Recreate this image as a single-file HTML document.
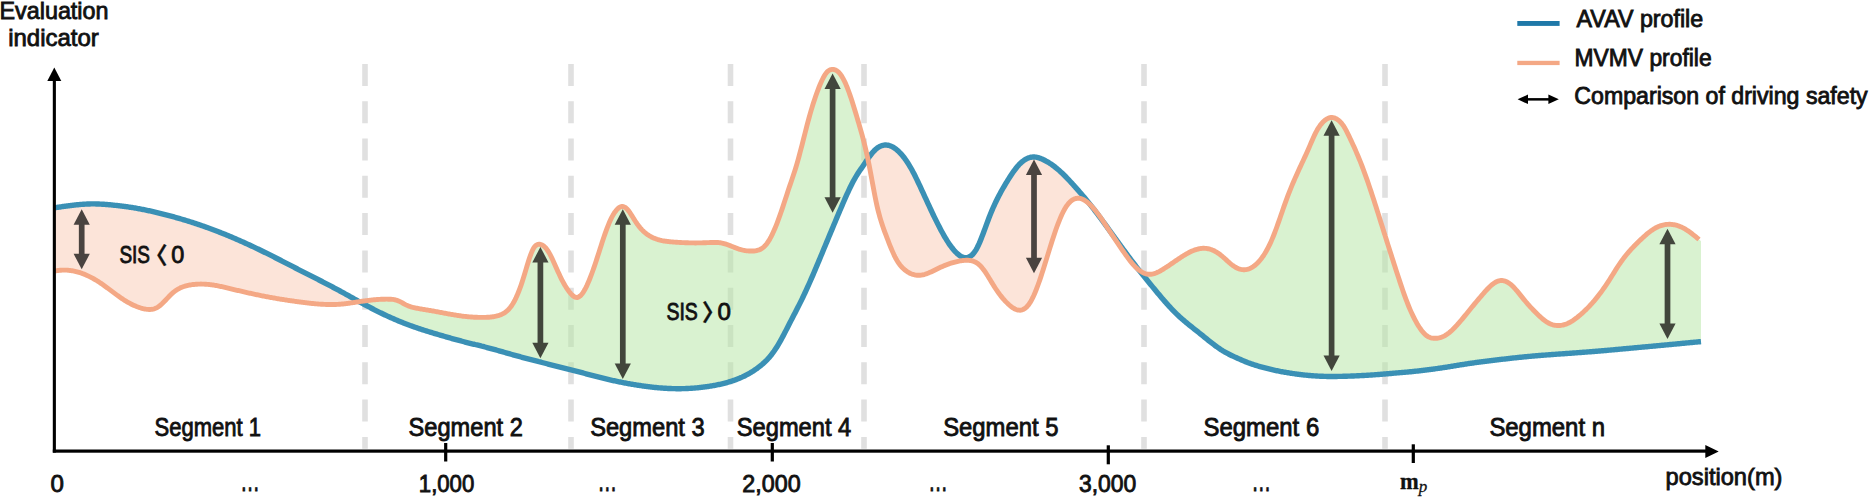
<!DOCTYPE html>
<html lang="en">
<head>
<meta charset="utf-8">
<title>AVAV vs MVMV profile</title>
<style>
html,body{margin:0;padding:0;background:#fff;}
body{width:1869px;height:498px;overflow:hidden;}
svg{display:block;}
svg text{font-family:"Liberation Sans","Noto Sans CJK KR",sans-serif;fill:#111;stroke:#111;stroke-width:0.85px;}
svg text.brk{font-family:"Noto Sans CJK KR","Noto Sans CJK JP",sans-serif;stroke-width:0.3px;}
svg text.math{font-family:"Liberation Serif","DejaVu Serif",serif;stroke-width:0.3px;}
</style>
</head>
<body>
<svg width="1869" height="498" viewBox="0 0 1869 498">
<rect width="1869" height="498" fill="#fff"/>
<g id="dashes"><line x1="365" y1="63.9" x2="365" y2="448.7" stroke="#e0e0e0" stroke-width="5.6" stroke-dasharray="22 15.3"/><line x1="571" y1="63.9" x2="571" y2="448.7" stroke="#e0e0e0" stroke-width="5.6" stroke-dasharray="22 15.3"/><line x1="730.5" y1="63.9" x2="730.5" y2="448.7" stroke="#e0e0e0" stroke-width="5.6" stroke-dasharray="22 15.3"/><line x1="864" y1="63.9" x2="864" y2="448.7" stroke="#e0e0e0" stroke-width="5.6" stroke-dasharray="22 15.3"/><line x1="1144" y1="63.9" x2="1144" y2="448.7" stroke="#e0e0e0" stroke-width="5.6" stroke-dasharray="22 15.3"/><line x1="1385" y1="63.9" x2="1385" y2="448.7" stroke="#e0e0e0" stroke-width="5.6" stroke-dasharray="22 15.3"/></g>
<g id="curves">
<path d="M55.0 271.00 L56.0 270.81 L57.0 270.64 L58.0 270.49 L59.0 270.37 L60.0 270.27 L61.0 270.19 L62.0 270.13 L63.0 270.09 L64.0 270.08 L65.0 270.09 L66.0 270.12 L67.0 270.17 L68.0 270.24 L69.0 270.34 L70.0 270.45 L71.0 270.59 L72.0 270.74 L73.0 270.92 L74.0 271.11 L75.0 271.33 L76.0 271.56 L77.0 271.82 L78.0 272.09 L79.0 272.39 L80.0 272.70 L81.0 273.03 L82.0 273.38 L83.0 273.75 L84.0 274.14 L85.0 274.54 L86.0 274.97 L87.0 275.41 L88.0 275.87 L89.0 276.35 L90.0 276.84 L91.0 277.35 L92.0 277.88 L93.0 278.43 L94.0 278.99 L95.0 279.57 L96.0 280.16 L97.0 280.77 L98.0 281.40 L99.0 282.04 L100.0 282.70 L101.0 283.37 L102.0 284.06 L103.0 284.76 L104.0 285.47 L105.0 286.20 L106.0 286.93 L107.0 287.66 L108.0 288.41 L109.0 289.15 L110.0 289.90 L111.0 290.66 L112.0 291.41 L113.0 292.16 L114.0 292.91 L115.0 293.65 L116.0 294.39 L117.0 295.12 L118.0 295.85 L119.0 296.56 L120.0 297.27 L121.0 297.96 L122.0 298.64 L123.0 299.30 L124.0 299.95 L125.0 300.58 L126.0 301.19 L127.0 301.78 L128.0 302.36 L129.0 302.92 L130.0 303.46 L131.0 303.98 L132.0 304.48 L133.0 304.96 L134.0 305.42 L135.0 305.86 L136.0 306.28 L137.0 306.67 L138.0 307.05 L139.0 307.40 L140.0 307.72 L141.0 308.03 L142.0 308.31 L143.0 308.57 L144.0 308.80 L145.0 309.01 L146.0 309.18 L147.0 309.32 L148.0 309.42 L149.0 309.48 L150.0 309.48 L151.0 309.42 L152.0 309.30 L153.0 309.12 L154.0 308.86 L155.0 308.52 L156.0 308.10 L157.0 307.59 L158.0 306.99 L159.0 306.29 L160.0 305.51 L161.0 304.66 L162.0 303.75 L163.0 302.79 L164.0 301.79 L165.0 300.76 L166.0 299.71 L167.0 298.65 L168.0 297.60 L169.0 296.55 L170.0 295.53 L171.0 294.54 L172.0 293.59 L173.0 292.70 L174.0 291.87 L175.0 291.10 L176.0 290.38 L177.0 289.73 L178.0 289.12 L179.0 288.57 L180.0 288.06 L181.0 287.60 L182.0 287.18 L183.0 286.80 L184.0 286.46 L185.0 286.14 L186.0 285.86 L187.0 285.61 L188.0 285.39 L189.0 285.18 L190.0 285.00 L191.0 284.83 L192.0 284.69 L193.0 284.55 L194.0 284.44 L195.0 284.34 L196.0 284.26 L197.0 284.19 L198.0 284.14 L199.0 284.10 L200.0 284.08 L201.0 284.07 L202.0 284.08 L203.0 284.10 L204.0 284.14 L205.0 284.18 L206.0 284.25 L207.0 284.32 L208.0 284.41 L209.0 284.51 L210.0 284.63 L211.0 284.75 L212.0 284.89 L213.0 285.03 L214.0 285.19 L215.0 285.36 L216.0 285.53 L217.0 285.71 L218.0 285.90 L219.0 286.10 L220.0 286.30 L221.0 286.51 L222.0 286.72 L223.0 286.94 L224.0 287.17 L225.0 287.40 L226.0 287.63 L227.0 287.86 L228.0 288.10 L229.0 288.34 L230.0 288.58 L231.0 288.82 L232.0 289.06 L233.0 289.30 L234.0 289.54 L235.0 289.78 L236.0 290.02 L237.0 290.26 L238.0 290.49 L239.0 290.73 L240.0 290.96 L241.0 291.20 L242.0 291.43 L243.0 291.66 L244.0 291.89 L245.0 292.12 L246.0 292.35 L247.0 292.57 L248.0 292.80 L249.0 293.02 L250.0 293.24 L251.0 293.46 L252.0 293.68 L253.0 293.90 L254.0 294.12 L255.0 294.33 L256.0 294.54 L257.0 294.75 L258.0 294.96 L259.0 295.17 L260.0 295.38 L261.0 295.58 L262.0 295.78 L263.0 295.98 L264.0 296.18 L265.0 296.37 L266.0 296.57 L267.0 296.76 L268.0 296.95 L269.0 297.13 L270.0 297.32 L271.0 297.50 L272.0 297.68 L273.0 297.86 L274.0 298.03 L275.0 298.21 L276.0 298.38 L277.0 298.55 L278.0 298.72 L279.0 298.89 L280.0 299.05 L281.0 299.21 L282.0 299.38 L283.0 299.53 L284.0 299.69 L285.0 299.85 L286.0 300.00 L287.0 300.16 L288.0 300.31 L289.0 300.46 L290.0 300.60 L291.0 300.75 L292.0 300.89 L293.0 301.04 L294.0 301.18 L295.0 301.32 L296.0 301.46 L297.0 301.60 L298.0 301.73 L299.0 301.87 L300.0 302.00 L301.0 302.13 L302.0 302.26 L303.0 302.39 L304.0 302.52 L305.0 302.64 L306.0 302.77 L307.0 302.89 L308.0 303.01 L309.0 303.12 L310.0 303.23 L311.0 303.34 L312.0 303.45 L313.0 303.55 L314.0 303.65 L315.0 303.74 L316.0 303.83 L317.0 303.91 L318.0 303.99 L319.0 304.07 L320.0 304.14 L321.0 304.21 L322.0 304.27 L323.0 304.32 L324.0 304.37 L325.0 304.41 L326.0 304.45 L327.0 304.48 L328.0 304.50 L329.0 304.52 L330.0 304.53 L331.0 304.53 L332.0 304.53 L333.0 304.51 L334.0 304.49 L335.0 304.47 L336.0 304.43 L337.0 304.39 L338.0 304.33 L339.0 304.27 L340.0 304.20 L341.0 304.12 L342.0 304.03 L343.0 303.94 L344.0 303.83 L345.0 303.72 L346.0 303.60 L347.0 303.48 L348.0 303.35 L349.0 303.22 L350.0 303.08 L351.0 302.94 L352.0 302.79 L353.0 302.64 L354.0 302.49 L355.0 302.34 L356.0 302.19 L357.0 302.03 L358.0 301.88 L359.0 301.73 L360.0 301.57 L360.0 302.09 L359.0 301.54 L358.0 300.99 L357.0 300.43 L356.0 299.88 L355.0 299.32 L354.0 298.76 L353.0 298.20 L352.0 297.65 L351.0 297.09 L350.0 296.53 L349.0 295.97 L348.0 295.41 L347.0 294.86 L346.0 294.30 L345.0 293.75 L344.0 293.19 L343.0 292.64 L342.0 292.09 L341.0 291.55 L340.0 291.00 L339.0 290.46 L338.0 289.92 L337.0 289.38 L336.0 288.84 L335.0 288.31 L334.0 287.77 L333.0 287.24 L332.0 286.71 L331.0 286.19 L330.0 285.66 L329.0 285.14 L328.0 284.62 L327.0 284.10 L326.0 283.58 L325.0 283.06 L324.0 282.54 L323.0 282.03 L322.0 281.51 L321.0 281.00 L320.0 280.49 L319.0 279.97 L318.0 279.46 L317.0 278.95 L316.0 278.44 L315.0 277.93 L314.0 277.42 L313.0 276.92 L312.0 276.41 L311.0 275.90 L310.0 275.39 L309.0 274.88 L308.0 274.38 L307.0 273.87 L306.0 273.36 L305.0 272.85 L304.0 272.34 L303.0 271.83 L302.0 271.32 L301.0 270.81 L300.0 270.30 L299.0 269.79 L298.0 269.28 L297.0 268.76 L296.0 268.25 L295.0 267.73 L294.0 267.22 L293.0 266.70 L292.0 266.19 L291.0 265.67 L290.0 265.16 L289.0 264.64 L288.0 264.13 L287.0 263.61 L286.0 263.10 L285.0 262.58 L284.0 262.07 L283.0 261.55 L282.0 261.04 L281.0 260.53 L280.0 260.02 L279.0 259.50 L278.0 258.99 L277.0 258.48 L276.0 257.97 L275.0 257.47 L274.0 256.96 L273.0 256.45 L272.0 255.95 L271.0 255.45 L270.0 254.94 L269.0 254.44 L268.0 253.95 L267.0 253.45 L266.0 252.95 L265.0 252.46 L264.0 251.97 L263.0 251.48 L262.0 250.99 L261.0 250.50 L260.0 250.02 L259.0 249.54 L258.0 249.05 L257.0 248.58 L256.0 248.10 L255.0 247.62 L254.0 247.15 L253.0 246.68 L252.0 246.21 L251.0 245.74 L250.0 245.28 L249.0 244.81 L248.0 244.35 L247.0 243.89 L246.0 243.44 L245.0 242.98 L244.0 242.53 L243.0 242.08 L242.0 241.63 L241.0 241.18 L240.0 240.74 L239.0 240.30 L238.0 239.86 L237.0 239.42 L236.0 238.99 L235.0 238.56 L234.0 238.13 L233.0 237.70 L232.0 237.28 L231.0 236.85 L230.0 236.43 L229.0 236.01 L228.0 235.60 L227.0 235.19 L226.0 234.78 L225.0 234.37 L224.0 233.96 L223.0 233.56 L222.0 233.16 L221.0 232.76 L220.0 232.37 L219.0 231.97 L218.0 231.58 L217.0 231.20 L216.0 230.81 L215.0 230.43 L214.0 230.05 L213.0 229.67 L212.0 229.30 L211.0 228.92 L210.0 228.55 L209.0 228.19 L208.0 227.82 L207.0 227.46 L206.0 227.10 L205.0 226.74 L204.0 226.39 L203.0 226.04 L202.0 225.69 L201.0 225.34 L200.0 225.00 L199.0 224.66 L198.0 224.32 L197.0 223.99 L196.0 223.65 L195.0 223.32 L194.0 223.00 L193.0 222.67 L192.0 222.35 L191.0 222.03 L190.0 221.71 L189.0 221.40 L188.0 221.08 L187.0 220.77 L186.0 220.47 L185.0 220.16 L184.0 219.86 L183.0 219.56 L182.0 219.26 L181.0 218.97 L180.0 218.67 L179.0 218.38 L178.0 218.10 L177.0 217.81 L176.0 217.53 L175.0 217.25 L174.0 216.97 L173.0 216.69 L172.0 216.42 L171.0 216.14 L170.0 215.87 L169.0 215.61 L168.0 215.34 L167.0 215.08 L166.0 214.82 L165.0 214.56 L164.0 214.30 L163.0 214.05 L162.0 213.80 L161.0 213.55 L160.0 213.30 L159.0 213.05 L158.0 212.81 L157.0 212.57 L156.0 212.33 L155.0 212.10 L154.0 211.87 L153.0 211.64 L152.0 211.41 L151.0 211.19 L150.0 210.97 L149.0 210.75 L148.0 210.53 L147.0 210.32 L146.0 210.11 L145.0 209.91 L144.0 209.71 L143.0 209.51 L142.0 209.31 L141.0 209.12 L140.0 208.93 L139.0 208.74 L138.0 208.56 L137.0 208.38 L136.0 208.21 L135.0 208.03 L134.0 207.86 L133.0 207.70 L132.0 207.54 L131.0 207.38 L130.0 207.23 L129.0 207.08 L128.0 206.93 L127.0 206.79 L126.0 206.65 L125.0 206.51 L124.0 206.38 L123.0 206.25 L122.0 206.12 L121.0 205.99 L120.0 205.87 L119.0 205.75 L118.0 205.64 L117.0 205.52 L116.0 205.41 L115.0 205.31 L114.0 205.20 L113.0 205.10 L112.0 205.00 L111.0 204.90 L110.0 204.81 L109.0 204.72 L108.0 204.63 L107.0 204.54 L106.0 204.46 L105.0 204.39 L104.0 204.31 L103.0 204.25 L102.0 204.18 L101.0 204.13 L100.0 204.08 L99.0 204.03 L98.0 203.99 L97.0 203.96 L96.0 203.93 L95.0 203.91 L94.0 203.90 L93.0 203.90 L92.0 203.90 L91.0 203.92 L90.0 203.94 L89.0 203.96 L88.0 204.00 L87.0 204.04 L86.0 204.09 L85.0 204.14 L84.0 204.21 L83.0 204.27 L82.0 204.35 L81.0 204.42 L80.0 204.51 L79.0 204.60 L78.0 204.69 L77.0 204.79 L76.0 204.89 L75.0 205.00 L74.0 205.11 L73.0 205.23 L72.0 205.35 L71.0 205.47 L70.0 205.59 L69.0 205.72 L68.0 205.85 L67.0 205.99 L66.0 206.12 L65.0 206.26 L64.0 206.40 L63.0 206.54 L62.0 206.68 L61.0 206.83 L60.0 206.97 L59.0 207.12 L58.0 207.26 L57.0 207.41 L56.0 207.55 L55.0 207.70Z" fill="#f9c9b3" fill-opacity="0.5"/>
<path d="M360.0 301.57 L361.0 301.42 L362.0 301.27 L363.0 301.13 L364.0 300.98 L365.0 300.84 L366.0 300.71 L367.0 300.58 L368.0 300.45 L369.0 300.33 L370.0 300.21 L371.0 300.10 L372.0 299.99 L373.0 299.89 L374.0 299.79 L375.0 299.71 L376.0 299.62 L377.0 299.54 L378.0 299.47 L379.0 299.41 L380.0 299.35 L381.0 299.30 L382.0 299.26 L383.0 299.23 L384.0 299.20 L385.0 299.18 L386.0 299.17 L387.0 299.17 L388.0 299.18 L389.0 299.20 L390.0 299.22 L391.0 299.26 L392.0 299.33 L393.0 299.43 L394.0 299.57 L395.0 299.77 L396.0 300.02 L397.0 300.34 L398.0 300.72 L399.0 301.16 L400.0 301.65 L401.0 302.17 L402.0 302.71 L403.0 303.26 L404.0 303.81 L405.0 304.35 L406.0 304.86 L407.0 305.33 L408.0 305.76 L409.0 306.16 L410.0 306.51 L411.0 306.84 L412.0 307.14 L413.0 307.41 L414.0 307.65 L415.0 307.88 L416.0 308.09 L417.0 308.28 L418.0 308.46 L419.0 308.63 L420.0 308.80 L421.0 308.97 L422.0 309.13 L423.0 309.30 L424.0 309.47 L425.0 309.63 L426.0 309.80 L427.0 309.97 L428.0 310.14 L429.0 310.32 L430.0 310.49 L431.0 310.67 L432.0 310.84 L433.0 311.02 L434.0 311.20 L435.0 311.38 L436.0 311.56 L437.0 311.74 L438.0 311.93 L439.0 312.11 L440.0 312.30 L441.0 312.49 L442.0 312.67 L443.0 312.86 L444.0 313.05 L445.0 313.24 L446.0 313.43 L447.0 313.61 L448.0 313.80 L449.0 313.98 L450.0 314.16 L451.0 314.34 L452.0 314.52 L453.0 314.69 L454.0 314.86 L455.0 315.03 L456.0 315.19 L457.0 315.35 L458.0 315.51 L459.0 315.66 L460.0 315.80 L461.0 315.94 L462.0 316.07 L463.0 316.20 L464.0 316.32 L465.0 316.43 L466.0 316.54 L467.0 316.64 L468.0 316.74 L469.0 316.83 L470.0 316.91 L471.0 316.99 L472.0 317.06 L473.0 317.12 L474.0 317.18 L475.0 317.23 L476.0 317.27 L477.0 317.31 L478.0 317.35 L479.0 317.37 L480.0 317.39 L481.0 317.41 L482.0 317.42 L483.0 317.42 L484.0 317.41 L485.0 317.39 L486.0 317.36 L487.0 317.32 L488.0 317.26 L489.0 317.19 L490.0 317.11 L491.0 317.00 L492.0 316.88 L493.0 316.74 L494.0 316.58 L495.0 316.40 L496.0 316.20 L497.0 315.96 L498.0 315.70 L499.0 315.39 L500.0 315.04 L501.0 314.64 L502.0 314.19 L503.0 313.67 L504.0 313.09 L505.0 312.43 L506.0 311.70 L507.0 310.87 L508.0 309.95 L509.0 308.92 L510.0 307.76 L511.0 306.48 L512.0 305.06 L513.0 303.48 L514.0 301.75 L515.0 299.87 L516.0 297.83 L517.0 295.63 L518.0 293.28 L519.0 290.78 L520.0 288.12 L521.0 285.32 L522.0 282.37 L523.0 279.28 L524.0 276.05 L525.0 272.72 L526.0 269.34 L527.0 265.98 L528.0 262.69 L529.0 259.52 L530.0 256.55 L531.0 253.81 L532.0 251.38 L533.0 249.30 L534.0 247.62 L535.0 246.33 L536.0 245.38 L537.0 244.73 L538.0 244.36 L539.0 244.23 L540.0 244.30 L541.0 244.54 L542.0 244.95 L543.0 245.52 L544.0 246.27 L545.0 247.19 L546.0 248.28 L547.0 249.55 L548.0 251.00 L549.0 252.62 L550.0 254.40 L551.0 256.31 L552.0 258.34 L553.0 260.46 L554.0 262.65 L555.0 264.88 L556.0 267.14 L557.0 269.41 L558.0 271.65 L559.0 273.86 L560.0 276.00 L561.0 278.06 L562.0 280.04 L563.0 281.93 L564.0 283.73 L565.0 285.45 L566.0 287.08 L567.0 288.62 L568.0 290.07 L569.0 291.43 L570.0 292.70 L571.0 293.87 L572.0 294.93 L573.0 295.84 L574.0 296.58 L575.0 297.12 L576.0 297.43 L577.0 297.50 L578.0 297.30 L579.0 296.83 L580.0 296.12 L581.0 295.17 L582.0 294.00 L583.0 292.62 L584.0 291.05 L585.0 289.30 L586.0 287.39 L587.0 285.32 L588.0 283.10 L589.0 280.75 L590.0 278.28 L591.0 275.70 L592.0 273.01 L593.0 270.23 L594.0 267.36 L595.0 264.43 L596.0 261.43 L597.0 258.38 L598.0 255.29 L599.0 252.18 L600.0 249.06 L601.0 245.95 L602.0 242.86 L603.0 239.82 L604.0 236.83 L605.0 233.92 L606.0 231.09 L607.0 228.37 L608.0 225.77 L609.0 223.31 L610.0 221.00 L611.0 218.86 L612.0 216.89 L613.0 215.08 L614.0 213.44 L615.0 211.96 L616.0 210.65 L617.0 209.50 L618.0 208.51 L619.0 207.70 L620.0 207.09 L621.0 206.68 L622.0 206.50 L623.0 206.56 L624.0 206.85 L625.0 207.36 L626.0 208.08 L627.0 209.00 L628.0 210.11 L629.0 211.38 L630.0 212.78 L631.0 214.29 L632.0 215.86 L633.0 217.47 L634.0 219.09 L635.0 220.70 L636.0 222.25 L637.0 223.72 L638.0 225.11 L639.0 226.41 L640.0 227.64 L641.0 228.78 L642.0 229.85 L643.0 230.86 L644.0 231.79 L645.0 232.66 L646.0 233.47 L647.0 234.22 L648.0 234.92 L649.0 235.56 L650.0 236.16 L651.0 236.71 L652.0 237.23 L653.0 237.70 L654.0 238.14 L655.0 238.55 L656.0 238.92 L657.0 239.27 L658.0 239.58 L659.0 239.87 L660.0 240.14 L661.0 240.38 L662.0 240.60 L663.0 240.79 L664.0 240.97 L665.0 241.14 L666.0 241.28 L667.0 241.41 L668.0 241.53 L669.0 241.64 L670.0 241.74 L671.0 241.83 L672.0 241.92 L673.0 242.00 L674.0 242.08 L675.0 242.15 L676.0 242.22 L677.0 242.29 L678.0 242.36 L679.0 242.42 L680.0 242.47 L681.0 242.53 L682.0 242.58 L683.0 242.63 L684.0 242.67 L685.0 242.71 L686.0 242.75 L687.0 242.79 L688.0 242.82 L689.0 242.84 L690.0 242.87 L691.0 242.89 L692.0 242.90 L693.0 242.91 L694.0 242.92 L695.0 242.93 L696.0 242.93 L697.0 242.92 L698.0 242.92 L699.0 242.91 L700.0 242.89 L701.0 242.87 L702.0 242.85 L703.0 242.82 L704.0 242.79 L705.0 242.75 L706.0 242.71 L707.0 242.67 L708.0 242.62 L709.0 242.58 L710.0 242.53 L711.0 242.49 L712.0 242.46 L713.0 242.44 L714.0 242.43 L715.0 242.43 L716.0 242.45 L717.0 242.50 L718.0 242.56 L719.0 242.65 L720.0 242.76 L721.0 242.91 L722.0 243.09 L723.0 243.30 L724.0 243.55 L725.0 243.83 L726.0 244.14 L727.0 244.48 L728.0 244.83 L729.0 245.21 L730.0 245.60 L731.0 246.00 L732.0 246.40 L733.0 246.81 L734.0 247.21 L735.0 247.61 L736.0 248.00 L737.0 248.38 L738.0 248.74 L739.0 249.08 L740.0 249.39 L741.0 249.68 L742.0 249.94 L743.0 250.17 L744.0 250.37 L745.0 250.55 L746.0 250.70 L747.0 250.82 L748.0 250.91 L749.0 250.98 L750.0 251.03 L751.0 251.04 L752.0 251.04 L753.0 251.00 L754.0 250.94 L755.0 250.84 L756.0 250.70 L757.0 250.50 L758.0 250.24 L759.0 249.90 L760.0 249.48 L761.0 248.97 L762.0 248.35 L763.0 247.62 L764.0 246.77 L765.0 245.79 L766.0 244.67 L767.0 243.39 L768.0 241.97 L769.0 240.40 L770.0 238.69 L771.0 236.85 L772.0 234.88 L773.0 232.78 L774.0 230.57 L775.0 228.25 L776.0 225.82 L777.0 223.29 L778.0 220.67 L779.0 217.95 L780.0 215.15 L781.0 212.28 L782.0 209.34 L783.0 206.35 L784.0 203.32 L785.0 200.27 L786.0 197.21 L787.0 194.15 L788.0 191.10 L789.0 188.09 L790.0 185.11 L791.0 182.18 L792.0 179.25 L793.0 176.30 L794.0 173.30 L795.0 170.21 L796.0 166.99 L797.0 163.63 L798.0 160.12 L799.0 156.48 L800.0 152.74 L801.0 148.92 L802.0 145.04 L803.0 141.12 L804.0 137.18 L805.0 133.25 L806.0 129.34 L807.0 125.48 L808.0 121.69 L809.0 118.00 L810.0 114.42 L811.0 110.94 L812.0 107.59 L813.0 104.34 L814.0 101.21 L815.0 98.19 L816.0 95.29 L817.0 92.49 L818.0 89.81 L819.0 87.24 L820.0 84.79 L821.0 82.45 L822.0 80.25 L823.0 78.22 L824.0 76.37 L825.0 74.71 L826.0 73.28 L827.0 72.08 L828.0 71.13 L829.0 70.41 L830.0 69.90 L831.0 69.58 L832.0 69.42 L833.0 69.41 L834.0 69.54 L835.0 69.82 L836.0 70.25 L837.0 70.86 L838.0 71.64 L839.0 72.61 L840.0 73.77 L841.0 75.13 L842.0 76.66 L843.0 78.38 L844.0 80.28 L845.0 82.34 L846.0 84.58 L847.0 86.98 L848.0 89.54 L849.0 92.24 L850.0 95.06 L851.0 98.01 L852.0 101.05 L853.0 104.19 L854.0 107.40 L855.0 110.66 L856.0 113.98 L857.0 117.33 L858.0 120.70 L859.0 124.10 L860.0 127.56 L861.0 131.09 L862.0 134.71 L863.0 138.46 L864.0 142.33 L865.0 146.37 L866.0 150.58 L867.0 154.99 L868.0 159.62 L868.0 158.66 L867.0 160.11 L866.0 161.58 L865.0 163.06 L864.0 164.54 L863.0 166.00 L862.0 167.45 L861.0 168.88 L860.0 170.33 L859.0 171.80 L858.0 173.30 L857.0 174.87 L856.0 176.50 L855.0 178.21 L854.0 179.99 L853.0 181.85 L852.0 183.77 L851.0 185.75 L850.0 187.78 L849.0 189.87 L848.0 192.01 L847.0 194.19 L846.0 196.41 L845.0 198.67 L844.0 200.95 L843.0 203.26 L842.0 205.59 L841.0 207.93 L840.0 210.29 L839.0 212.66 L838.0 215.03 L837.0 217.40 L836.0 219.78 L835.0 222.17 L834.0 224.56 L833.0 226.95 L832.0 229.34 L831.0 231.74 L830.0 234.14 L829.0 236.55 L828.0 238.95 L827.0 241.36 L826.0 243.77 L825.0 246.18 L824.0 248.59 L823.0 251.00 L822.0 253.41 L821.0 255.82 L820.0 258.22 L819.0 260.62 L818.0 263.01 L817.0 265.40 L816.0 267.77 L815.0 270.13 L814.0 272.48 L813.0 274.82 L812.0 277.14 L811.0 279.44 L810.0 281.72 L809.0 283.98 L808.0 286.21 L807.0 288.43 L806.0 290.61 L805.0 292.77 L804.0 294.90 L803.0 297.00 L802.0 299.07 L801.0 301.10 L800.0 303.12 L799.0 305.11 L798.0 307.08 L797.0 309.03 L796.0 310.98 L795.0 312.91 L794.0 314.84 L793.0 316.77 L792.0 318.70 L791.0 320.63 L790.0 322.58 L789.0 324.53 L788.0 326.49 L787.0 328.44 L786.0 330.38 L785.0 332.32 L784.0 334.23 L783.0 336.13 L782.0 337.99 L781.0 339.82 L780.0 341.61 L779.0 343.36 L778.0 345.06 L777.0 346.70 L776.0 348.28 L775.0 349.80 L774.0 351.26 L773.0 352.65 L772.0 353.98 L771.0 355.25 L770.0 356.46 L769.0 357.63 L768.0 358.74 L767.0 359.81 L766.0 360.83 L765.0 361.81 L764.0 362.75 L763.0 363.65 L762.0 364.52 L761.0 365.35 L760.0 366.16 L759.0 366.94 L758.0 367.70 L757.0 368.44 L756.0 369.15 L755.0 369.84 L754.0 370.51 L753.0 371.17 L752.0 371.80 L751.0 372.41 L750.0 373.00 L749.0 373.58 L748.0 374.14 L747.0 374.68 L746.0 375.20 L745.0 375.71 L744.0 376.20 L743.0 376.67 L742.0 377.14 L741.0 377.58 L740.0 378.01 L739.0 378.43 L738.0 378.83 L737.0 379.23 L736.0 379.61 L735.0 379.97 L734.0 380.33 L733.0 380.68 L732.0 381.01 L731.0 381.33 L730.0 381.65 L729.0 381.95 L728.0 382.25 L727.0 382.53 L726.0 382.81 L725.0 383.08 L724.0 383.34 L723.0 383.59 L722.0 383.83 L721.0 384.06 L720.0 384.29 L719.0 384.51 L718.0 384.72 L717.0 384.92 L716.0 385.12 L715.0 385.31 L714.0 385.49 L713.0 385.67 L712.0 385.85 L711.0 386.01 L710.0 386.17 L709.0 386.33 L708.0 386.48 L707.0 386.63 L706.0 386.77 L705.0 386.91 L704.0 387.04 L703.0 387.17 L702.0 387.29 L701.0 387.41 L700.0 387.52 L699.0 387.63 L698.0 387.73 L697.0 387.82 L696.0 387.92 L695.0 388.00 L694.0 388.08 L693.0 388.16 L692.0 388.23 L691.0 388.30 L690.0 388.36 L689.0 388.42 L688.0 388.47 L687.0 388.51 L686.0 388.55 L685.0 388.59 L684.0 388.62 L683.0 388.64 L682.0 388.66 L681.0 388.68 L680.0 388.69 L679.0 388.69 L678.0 388.69 L677.0 388.69 L676.0 388.68 L675.0 388.66 L674.0 388.64 L673.0 388.62 L672.0 388.59 L671.0 388.55 L670.0 388.52 L669.0 388.47 L668.0 388.43 L667.0 388.38 L666.0 388.32 L665.0 388.26 L664.0 388.20 L663.0 388.13 L662.0 388.06 L661.0 387.98 L660.0 387.90 L659.0 387.82 L658.0 387.73 L657.0 387.64 L656.0 387.54 L655.0 387.44 L654.0 387.34 L653.0 387.23 L652.0 387.12 L651.0 387.00 L650.0 386.89 L649.0 386.77 L648.0 386.64 L647.0 386.51 L646.0 386.38 L645.0 386.25 L644.0 386.11 L643.0 385.97 L642.0 385.83 L641.0 385.68 L640.0 385.54 L639.0 385.38 L638.0 385.23 L637.0 385.07 L636.0 384.91 L635.0 384.75 L634.0 384.59 L633.0 384.42 L632.0 384.25 L631.0 384.08 L630.0 383.90 L629.0 383.72 L628.0 383.54 L627.0 383.36 L626.0 383.18 L625.0 382.99 L624.0 382.80 L623.0 382.60 L622.0 382.41 L621.0 382.21 L620.0 382.01 L619.0 381.80 L618.0 381.60 L617.0 381.39 L616.0 381.17 L615.0 380.96 L614.0 380.74 L613.0 380.52 L612.0 380.30 L611.0 380.07 L610.0 379.84 L609.0 379.61 L608.0 379.37 L607.0 379.13 L606.0 378.89 L605.0 378.65 L604.0 378.41 L603.0 378.16 L602.0 377.91 L601.0 377.66 L600.0 377.41 L599.0 377.16 L598.0 376.90 L597.0 376.65 L596.0 376.39 L595.0 376.13 L594.0 375.87 L593.0 375.61 L592.0 375.35 L591.0 375.09 L590.0 374.83 L589.0 374.56 L588.0 374.30 L587.0 374.04 L586.0 373.77 L585.0 373.51 L584.0 373.25 L583.0 372.98 L582.0 372.72 L581.0 372.46 L580.0 372.20 L579.0 371.93 L578.0 371.67 L577.0 371.41 L576.0 371.15 L575.0 370.89 L574.0 370.62 L573.0 370.36 L572.0 370.10 L571.0 369.84 L570.0 369.58 L569.0 369.32 L568.0 369.07 L567.0 368.81 L566.0 368.55 L565.0 368.29 L564.0 368.04 L563.0 367.78 L562.0 367.53 L561.0 367.27 L560.0 367.02 L559.0 366.77 L558.0 366.51 L557.0 366.26 L556.0 366.01 L555.0 365.76 L554.0 365.51 L553.0 365.26 L552.0 365.01 L551.0 364.76 L550.0 364.51 L549.0 364.26 L548.0 364.01 L547.0 363.76 L546.0 363.50 L545.0 363.25 L544.0 363.00 L543.0 362.75 L542.0 362.50 L541.0 362.24 L540.0 361.99 L539.0 361.74 L538.0 361.48 L537.0 361.23 L536.0 360.97 L535.0 360.71 L534.0 360.45 L533.0 360.19 L532.0 359.93 L531.0 359.67 L530.0 359.41 L529.0 359.15 L528.0 358.88 L527.0 358.62 L526.0 358.35 L525.0 358.09 L524.0 357.82 L523.0 357.55 L522.0 357.28 L521.0 357.01 L520.0 356.73 L519.0 356.46 L518.0 356.19 L517.0 355.91 L516.0 355.63 L515.0 355.36 L514.0 355.08 L513.0 354.80 L512.0 354.52 L511.0 354.23 L510.0 353.95 L509.0 353.67 L508.0 353.38 L507.0 353.09 L506.0 352.81 L505.0 352.52 L504.0 352.24 L503.0 351.95 L502.0 351.66 L501.0 351.38 L500.0 351.09 L499.0 350.81 L498.0 350.53 L497.0 350.24 L496.0 349.96 L495.0 349.68 L494.0 349.41 L493.0 349.13 L492.0 348.86 L491.0 348.58 L490.0 348.31 L489.0 348.04 L488.0 347.78 L487.0 347.52 L486.0 347.26 L485.0 347.00 L484.0 346.74 L483.0 346.49 L482.0 346.24 L481.0 345.98 L480.0 345.73 L479.0 345.49 L478.0 345.24 L477.0 344.99 L476.0 344.75 L475.0 344.50 L474.0 344.25 L473.0 344.01 L472.0 343.76 L471.0 343.52 L470.0 343.27 L469.0 343.02 L468.0 342.77 L467.0 342.52 L466.0 342.27 L465.0 342.01 L464.0 341.76 L463.0 341.50 L462.0 341.24 L461.0 340.98 L460.0 340.71 L459.0 340.45 L458.0 340.18 L457.0 339.91 L456.0 339.63 L455.0 339.36 L454.0 339.08 L453.0 338.81 L452.0 338.53 L451.0 338.25 L450.0 337.96 L449.0 337.68 L448.0 337.39 L447.0 337.11 L446.0 336.82 L445.0 336.53 L444.0 336.24 L443.0 335.95 L442.0 335.66 L441.0 335.37 L440.0 335.07 L439.0 334.78 L438.0 334.48 L437.0 334.19 L436.0 333.89 L435.0 333.59 L434.0 333.29 L433.0 332.99 L432.0 332.69 L431.0 332.39 L430.0 332.08 L429.0 331.78 L428.0 331.47 L427.0 331.16 L426.0 330.84 L425.0 330.53 L424.0 330.21 L423.0 329.89 L422.0 329.57 L421.0 329.24 L420.0 328.91 L419.0 328.58 L418.0 328.25 L417.0 327.91 L416.0 327.57 L415.0 327.22 L414.0 326.87 L413.0 326.52 L412.0 326.16 L411.0 325.80 L410.0 325.43 L409.0 325.06 L408.0 324.69 L407.0 324.31 L406.0 323.93 L405.0 323.54 L404.0 323.15 L403.0 322.76 L402.0 322.36 L401.0 321.96 L400.0 321.55 L399.0 321.14 L398.0 320.73 L397.0 320.31 L396.0 319.89 L395.0 319.46 L394.0 319.03 L393.0 318.59 L392.0 318.15 L391.0 317.71 L390.0 317.26 L389.0 316.81 L388.0 316.35 L387.0 315.89 L386.0 315.43 L385.0 314.96 L384.0 314.48 L383.0 314.01 L382.0 313.53 L381.0 313.04 L380.0 312.55 L379.0 312.06 L378.0 311.57 L377.0 311.07 L376.0 310.56 L375.0 310.06 L374.0 309.55 L373.0 309.03 L372.0 308.52 L371.0 308.00 L370.0 307.47 L369.0 306.95 L368.0 306.42 L367.0 305.89 L366.0 305.35 L365.0 304.82 L364.0 304.28 L363.0 303.73 L362.0 303.19 L361.0 302.64 L360.0 302.09Z" fill="#b3e5a1" fill-opacity="0.5"/>
<path d="M868.0 159.62 L869.0 164.49 L870.0 169.61 L871.0 174.93 L872.0 180.36 L873.0 185.81 L874.0 191.17 L875.0 196.36 L876.0 201.29 L877.0 205.86 L878.0 210.07 L879.0 213.96 L880.0 217.55 L881.0 220.90 L882.0 224.04 L883.0 227.00 L884.0 229.82 L885.0 232.55 L886.0 235.21 L887.0 237.84 L888.0 240.45 L889.0 243.02 L890.0 245.54 L891.0 247.99 L892.0 250.36 L893.0 252.64 L894.0 254.81 L895.0 256.85 L896.0 258.76 L897.0 260.51 L898.0 262.12 L899.0 263.59 L900.0 264.93 L901.0 266.15 L902.0 267.26 L903.0 268.27 L904.0 269.18 L905.0 270.02 L906.0 270.78 L907.0 271.48 L908.0 272.13 L909.0 272.71 L910.0 273.23 L911.0 273.69 L912.0 274.10 L913.0 274.45 L914.0 274.73 L915.0 274.96 L916.0 275.13 L917.0 275.25 L918.0 275.30 L919.0 275.30 L920.0 275.24 L921.0 275.13 L922.0 274.97 L923.0 274.77 L924.0 274.52 L925.0 274.24 L926.0 273.92 L927.0 273.57 L928.0 273.19 L929.0 272.79 L930.0 272.36 L931.0 271.91 L932.0 271.45 L933.0 270.97 L934.0 270.49 L935.0 270.00 L936.0 269.50 L937.0 269.01 L938.0 268.52 L939.0 268.03 L940.0 267.56 L941.0 267.10 L942.0 266.65 L943.0 266.21 L944.0 265.78 L945.0 265.37 L946.0 264.97 L947.0 264.59 L948.0 264.22 L949.0 263.86 L950.0 263.52 L951.0 263.19 L952.0 262.88 L953.0 262.58 L954.0 262.29 L955.0 262.03 L956.0 261.77 L957.0 261.54 L958.0 261.31 L959.0 261.11 L960.0 260.93 L961.0 260.77 L962.0 260.63 L963.0 260.51 L964.0 260.41 L965.0 260.35 L966.0 260.31 L967.0 260.29 L968.0 260.32 L969.0 260.38 L970.0 260.48 L971.0 260.64 L972.0 260.86 L973.0 261.15 L974.0 261.50 L975.0 261.94 L976.0 262.45 L977.0 263.06 L978.0 263.77 L979.0 264.58 L980.0 265.50 L981.0 266.53 L982.0 267.68 L983.0 268.93 L984.0 270.28 L985.0 271.70 L986.0 273.19 L987.0 274.73 L988.0 276.32 L989.0 277.94 L990.0 279.58 L991.0 281.23 L992.0 282.88 L993.0 284.52 L994.0 286.13 L995.0 287.70 L996.0 289.23 L997.0 290.70 L998.0 292.13 L999.0 293.51 L1000.0 294.85 L1001.0 296.13 L1002.0 297.37 L1003.0 298.57 L1004.0 299.71 L1005.0 300.81 L1006.0 301.87 L1007.0 302.87 L1008.0 303.84 L1009.0 304.75 L1010.0 305.62 L1011.0 306.43 L1012.0 307.19 L1013.0 307.87 L1014.0 308.48 L1015.0 309.01 L1016.0 309.45 L1017.0 309.79 L1018.0 310.04 L1019.0 310.17 L1020.0 310.20 L1021.0 310.10 L1022.0 309.87 L1023.0 309.52 L1024.0 309.02 L1025.0 308.37 L1026.0 307.57 L1027.0 306.61 L1028.0 305.48 L1029.0 304.18 L1030.0 302.70 L1031.0 301.03 L1032.0 299.19 L1033.0 297.18 L1034.0 295.02 L1035.0 292.71 L1036.0 290.26 L1037.0 287.69 L1038.0 285.00 L1039.0 282.21 L1040.0 279.33 L1041.0 276.36 L1042.0 273.32 L1043.0 270.21 L1044.0 267.05 L1045.0 263.85 L1046.0 260.62 L1047.0 257.38 L1048.0 254.13 L1049.0 250.88 L1050.0 247.65 L1051.0 244.46 L1052.0 241.30 L1053.0 238.19 L1054.0 235.15 L1055.0 232.18 L1056.0 229.30 L1057.0 226.52 L1058.0 223.84 L1059.0 221.27 L1060.0 218.82 L1061.0 216.49 L1062.0 214.29 L1063.0 212.23 L1064.0 210.31 L1065.0 208.53 L1066.0 206.91 L1067.0 205.44 L1068.0 204.12 L1069.0 202.95 L1070.0 201.92 L1071.0 201.03 L1072.0 200.27 L1073.0 199.63 L1074.0 199.12 L1075.0 198.74 L1076.0 198.46 L1077.0 198.30 L1078.0 198.24 L1079.0 198.29 L1080.0 198.44 L1081.0 198.68 L1082.0 199.02 L1083.0 199.44 L1084.0 199.95 L1085.0 200.54 L1086.0 201.21 L1087.0 201.95 L1088.0 202.76 L1089.0 203.65 L1090.0 204.59 L1091.0 205.59 L1091.0 205.63 L1090.0 204.37 L1089.0 203.13 L1088.0 201.90 L1087.0 200.68 L1086.0 199.47 L1085.0 198.28 L1084.0 197.09 L1083.0 195.91 L1082.0 194.74 L1081.0 193.58 L1080.0 192.43 L1079.0 191.28 L1078.0 190.14 L1077.0 189.00 L1076.0 187.87 L1075.0 186.74 L1074.0 185.62 L1073.0 184.50 L1072.0 183.40 L1071.0 182.30 L1070.0 181.22 L1069.0 180.15 L1068.0 179.09 L1067.0 178.04 L1066.0 177.01 L1065.0 176.00 L1064.0 175.00 L1063.0 174.03 L1062.0 173.07 L1061.0 172.13 L1060.0 171.22 L1059.0 170.33 L1058.0 169.46 L1057.0 168.61 L1056.0 167.79 L1055.0 167.00 L1054.0 166.23 L1053.0 165.50 L1052.0 164.78 L1051.0 164.10 L1050.0 163.44 L1049.0 162.80 L1048.0 162.19 L1047.0 161.60 L1046.0 161.04 L1045.0 160.50 L1044.0 159.98 L1043.0 159.50 L1042.0 159.04 L1041.0 158.62 L1040.0 158.23 L1039.0 157.89 L1038.0 157.60 L1037.0 157.37 L1036.0 157.18 L1035.0 157.06 L1034.0 157.00 L1033.0 157.02 L1032.0 157.10 L1031.0 157.25 L1030.0 157.47 L1029.0 157.77 L1028.0 158.13 L1027.0 158.57 L1026.0 159.08 L1025.0 159.67 L1024.0 160.33 L1023.0 161.06 L1022.0 161.86 L1021.0 162.74 L1020.0 163.70 L1019.0 164.73 L1018.0 165.83 L1017.0 167.00 L1016.0 168.24 L1015.0 169.53 L1014.0 170.88 L1013.0 172.28 L1012.0 173.73 L1011.0 175.23 L1010.0 176.76 L1009.0 178.33 L1008.0 179.92 L1007.0 181.55 L1006.0 183.20 L1005.0 184.86 L1004.0 186.56 L1003.0 188.28 L1002.0 190.04 L1001.0 191.83 L1000.0 193.67 L999.0 195.55 L998.0 197.48 L997.0 199.46 L996.0 201.51 L995.0 203.62 L994.0 205.79 L993.0 208.03 L992.0 210.35 L991.0 212.75 L990.0 215.24 L989.0 217.81 L988.0 220.45 L987.0 223.15 L986.0 225.87 L985.0 228.60 L984.0 231.32 L983.0 233.99 L982.0 236.61 L981.0 239.15 L980.0 241.58 L979.0 243.88 L978.0 246.04 L977.0 248.02 L976.0 249.82 L975.0 251.40 L974.0 252.79 L973.0 253.99 L972.0 255.01 L971.0 255.85 L970.0 256.52 L969.0 257.04 L968.0 257.40 L967.0 257.62 L966.0 257.71 L965.0 257.67 L964.0 257.51 L963.0 257.23 L962.0 256.84 L961.0 256.34 L960.0 255.73 L959.0 255.03 L958.0 254.24 L957.0 253.36 L956.0 252.40 L955.0 251.36 L954.0 250.25 L953.0 249.06 L952.0 247.81 L951.0 246.49 L950.0 245.10 L949.0 243.65 L948.0 242.14 L947.0 240.58 L946.0 238.96 L945.0 237.29 L944.0 235.57 L943.0 233.81 L942.0 232.00 L941.0 230.16 L940.0 228.27 L939.0 226.35 L938.0 224.40 L937.0 222.42 L936.0 220.41 L935.0 218.37 L934.0 216.31 L933.0 214.23 L932.0 212.12 L931.0 210.00 L930.0 207.87 L929.0 205.72 L928.0 203.57 L927.0 201.40 L926.0 199.23 L925.0 197.05 L924.0 194.88 L923.0 192.70 L922.0 190.53 L921.0 188.36 L920.0 186.21 L919.0 184.08 L918.0 181.96 L917.0 179.88 L916.0 177.83 L915.0 175.82 L914.0 173.85 L913.0 171.93 L912.0 170.06 L911.0 168.26 L910.0 166.51 L909.0 164.83 L908.0 163.23 L907.0 161.69 L906.0 160.22 L905.0 158.82 L904.0 157.48 L903.0 156.22 L902.0 155.02 L901.0 153.88 L900.0 152.81 L899.0 151.81 L898.0 150.87 L897.0 150.00 L896.0 149.19 L895.0 148.45 L894.0 147.77 L893.0 147.16 L892.0 146.62 L891.0 146.16 L890.0 145.77 L889.0 145.46 L888.0 145.23 L887.0 145.07 L886.0 145.00 L885.0 145.01 L884.0 145.11 L883.0 145.29 L882.0 145.57 L881.0 145.93 L880.0 146.37 L879.0 146.91 L878.0 147.54 L877.0 148.27 L876.0 149.08 L875.0 149.99 L874.0 151.00 L873.0 152.10 L872.0 153.29 L871.0 154.54 L870.0 155.87 L869.0 157.24 L868.0 158.66Z" fill="#f9c9b3" fill-opacity="0.5"/>
<path d="M1091.0 205.59 L1092.0 206.65 L1093.0 207.77 L1094.0 208.93 L1095.0 210.14 L1096.0 211.40 L1097.0 212.69 L1098.0 214.02 L1099.0 215.38 L1100.0 216.77 L1101.0 218.19 L1102.0 219.63 L1103.0 221.09 L1104.0 222.56 L1105.0 224.05 L1106.0 225.55 L1107.0 227.05 L1107.0 226.96 L1106.0 225.59 L1105.0 224.21 L1104.0 222.85 L1103.0 221.48 L1102.0 220.12 L1101.0 218.76 L1100.0 217.41 L1099.0 216.07 L1098.0 214.73 L1097.0 213.40 L1096.0 212.08 L1095.0 210.77 L1094.0 209.47 L1093.0 208.18 L1092.0 206.90 L1091.0 205.63Z" fill="#b3e5a1" fill-opacity="0.5"/>
<path d="M1107.0 227.05 L1108.0 228.56 L1109.0 230.07 L1110.0 231.58 L1111.0 233.09 L1112.0 234.61 L1113.0 236.12 L1114.0 237.63 L1115.0 239.14 L1116.0 240.64 L1117.0 242.14 L1118.0 243.64 L1119.0 245.13 L1120.0 246.61 L1121.0 248.08 L1122.0 249.55 L1123.0 251.00 L1124.0 252.44 L1125.0 253.87 L1126.0 255.28 L1127.0 256.66 L1128.0 258.02 L1129.0 259.35 L1130.0 260.65 L1131.0 261.90 L1132.0 263.12 L1133.0 264.28 L1134.0 265.40 L1135.0 266.47 L1136.0 267.47 L1137.0 268.42 L1138.0 269.30 L1139.0 270.11 L1139.0 270.12 L1138.0 268.84 L1137.0 267.57 L1136.0 266.28 L1135.0 264.99 L1134.0 263.69 L1133.0 262.38 L1132.0 261.07 L1131.0 259.75 L1130.0 258.42 L1129.0 257.09 L1128.0 255.76 L1127.0 254.41 L1126.0 253.07 L1125.0 251.72 L1124.0 250.36 L1123.0 249.00 L1122.0 247.64 L1121.0 246.27 L1120.0 244.90 L1119.0 243.52 L1118.0 242.15 L1117.0 240.77 L1116.0 239.39 L1115.0 238.01 L1114.0 236.63 L1113.0 235.25 L1112.0 233.86 L1111.0 232.48 L1110.0 231.10 L1109.0 229.72 L1108.0 228.34 L1107.0 226.96Z" fill="#f9c9b3" fill-opacity="0.5"/>
<path d="M1139.0 270.11 L1140.0 270.85 L1141.0 271.52 L1142.0 272.12 L1143.0 272.65 L1144.0 273.11 L1145.0 273.49 L1146.0 273.80 L1147.0 274.04 L1148.0 274.20 L1149.0 274.28 L1150.0 274.30 L1151.0 274.23 L1152.0 274.10 L1153.0 273.90 L1154.0 273.63 L1155.0 273.32 L1156.0 272.95 L1157.0 272.53 L1158.0 272.07 L1159.0 271.57 L1160.0 271.04 L1161.0 270.49 L1162.0 269.90 L1163.0 269.30 L1164.0 268.68 L1165.0 268.05 L1166.0 267.41 L1167.0 266.76 L1168.0 266.09 L1169.0 265.42 L1170.0 264.75 L1171.0 264.06 L1172.0 263.38 L1173.0 262.69 L1174.0 262.00 L1175.0 261.31 L1176.0 260.63 L1177.0 259.95 L1178.0 259.27 L1179.0 258.60 L1180.0 257.93 L1181.0 257.28 L1182.0 256.63 L1183.0 256.00 L1184.0 255.38 L1185.0 254.77 L1186.0 254.19 L1187.0 253.62 L1188.0 253.06 L1189.0 252.53 L1190.0 252.03 L1191.0 251.55 L1192.0 251.09 L1193.0 250.66 L1194.0 250.27 L1195.0 249.90 L1196.0 249.57 L1197.0 249.27 L1198.0 249.01 L1199.0 248.78 L1200.0 248.60 L1201.0 248.46 L1202.0 248.36 L1203.0 248.30 L1204.0 248.29 L1205.0 248.33 L1206.0 248.41 L1207.0 248.54 L1208.0 248.72 L1209.0 248.94 L1210.0 249.22 L1211.0 249.53 L1212.0 249.90 L1213.0 250.31 L1214.0 250.77 L1215.0 251.28 L1216.0 251.83 L1217.0 252.43 L1218.0 253.09 L1219.0 253.78 L1220.0 254.53 L1221.0 255.32 L1222.0 256.15 L1223.0 257.01 L1224.0 257.89 L1225.0 258.79 L1226.0 259.69 L1227.0 260.60 L1228.0 261.50 L1229.0 262.38 L1230.0 263.24 L1231.0 264.07 L1232.0 264.86 L1233.0 265.61 L1234.0 266.30 L1235.0 266.93 L1236.0 267.50 L1237.0 268.01 L1238.0 268.46 L1239.0 268.84 L1240.0 269.15 L1241.0 269.39 L1242.0 269.57 L1243.0 269.68 L1244.0 269.71 L1245.0 269.68 L1246.0 269.57 L1247.0 269.39 L1248.0 269.13 L1249.0 268.81 L1250.0 268.41 L1251.0 267.93 L1252.0 267.38 L1253.0 266.76 L1254.0 266.06 L1255.0 265.28 L1256.0 264.43 L1257.0 263.50 L1258.0 262.50 L1259.0 261.42 L1260.0 260.26 L1261.0 259.02 L1262.0 257.70 L1263.0 256.29 L1264.0 254.79 L1265.0 253.21 L1266.0 251.53 L1267.0 249.75 L1268.0 247.88 L1269.0 245.91 L1270.0 243.84 L1271.0 241.67 L1272.0 239.39 L1273.0 237.00 L1274.0 234.50 L1275.0 231.91 L1276.0 229.24 L1277.0 226.49 L1278.0 223.69 L1279.0 220.84 L1280.0 217.97 L1281.0 215.07 L1282.0 212.18 L1283.0 209.29 L1284.0 206.43 L1285.0 203.60 L1286.0 200.82 L1287.0 198.11 L1288.0 195.46 L1289.0 192.87 L1290.0 190.34 L1291.0 187.86 L1292.0 185.43 L1293.0 183.05 L1294.0 180.71 L1295.0 178.40 L1296.0 176.14 L1297.0 173.90 L1298.0 171.70 L1299.0 169.51 L1300.0 167.35 L1301.0 165.20 L1302.0 163.06 L1303.0 160.93 L1304.0 158.80 L1305.0 156.65 L1306.0 154.47 L1307.0 152.27 L1308.0 150.03 L1309.0 147.74 L1310.0 145.40 L1311.0 143.05 L1312.0 140.71 L1313.0 138.42 L1314.0 136.20 L1315.0 134.10 L1316.0 132.13 L1317.0 130.30 L1318.0 128.61 L1319.0 127.04 L1320.0 125.61 L1321.0 124.30 L1322.0 123.11 L1323.0 122.04 L1324.0 121.08 L1325.0 120.23 L1326.0 119.49 L1327.0 118.86 L1328.0 118.35 L1329.0 117.96 L1330.0 117.68 L1331.0 117.53 L1332.0 117.50 L1333.0 117.60 L1334.0 117.83 L1335.0 118.17 L1336.0 118.63 L1337.0 119.21 L1338.0 119.91 L1339.0 120.72 L1340.0 121.65 L1341.0 122.70 L1342.0 123.88 L1343.0 125.21 L1344.0 126.69 L1345.0 128.35 L1346.0 130.17 L1347.0 132.10 L1348.0 134.10 L1349.0 136.14 L1350.0 138.22 L1351.0 140.33 L1352.0 142.47 L1353.0 144.65 L1354.0 146.86 L1355.0 149.10 L1356.0 151.38 L1357.0 153.70 L1358.0 156.06 L1359.0 158.47 L1360.0 160.93 L1361.0 163.43 L1362.0 166.00 L1363.0 168.62 L1364.0 171.30 L1365.0 174.04 L1366.0 176.82 L1367.0 179.65 L1368.0 182.53 L1369.0 185.45 L1370.0 188.41 L1371.0 191.40 L1372.0 194.43 L1373.0 197.49 L1374.0 200.57 L1375.0 203.68 L1376.0 206.81 L1377.0 209.95 L1378.0 213.12 L1379.0 216.29 L1380.0 219.47 L1381.0 222.65 L1382.0 225.84 L1383.0 229.03 L1384.0 232.21 L1385.0 235.38 L1386.0 238.55 L1387.0 241.72 L1388.0 244.88 L1389.0 248.03 L1390.0 251.17 L1391.0 254.31 L1392.0 257.44 L1393.0 260.56 L1394.0 263.68 L1395.0 266.78 L1396.0 269.88 L1397.0 272.97 L1398.0 276.05 L1399.0 279.10 L1400.0 282.13 L1401.0 285.12 L1402.0 288.07 L1403.0 290.98 L1404.0 293.82 L1405.0 296.61 L1406.0 299.32 L1407.0 301.96 L1408.0 304.51 L1409.0 306.97 L1410.0 309.34 L1411.0 311.62 L1412.0 313.81 L1413.0 315.90 L1414.0 317.91 L1415.0 319.84 L1416.0 321.68 L1417.0 323.45 L1418.0 325.13 L1419.0 326.74 L1420.0 328.25 L1421.0 329.68 L1422.0 331.00 L1423.0 332.22 L1424.0 333.33 L1425.0 334.33 L1426.0 335.20 L1427.0 335.95 L1428.0 336.57 L1429.0 337.09 L1430.0 337.50 L1431.0 337.82 L1432.0 338.05 L1433.0 338.20 L1434.0 338.29 L1435.0 338.31 L1436.0 338.28 L1437.0 338.20 L1438.0 338.06 L1439.0 337.88 L1440.0 337.64 L1441.0 337.34 L1442.0 336.99 L1443.0 336.58 L1444.0 336.11 L1445.0 335.57 L1446.0 334.98 L1447.0 334.32 L1448.0 333.60 L1449.0 332.83 L1450.0 332.01 L1451.0 331.13 L1452.0 330.22 L1453.0 329.26 L1454.0 328.26 L1455.0 327.23 L1456.0 326.17 L1457.0 325.08 L1458.0 323.96 L1459.0 322.82 L1460.0 321.67 L1461.0 320.49 L1462.0 319.30 L1463.0 318.10 L1464.0 316.88 L1465.0 315.66 L1466.0 314.43 L1467.0 313.20 L1468.0 311.96 L1469.0 310.73 L1470.0 309.50 L1471.0 308.27 L1472.0 307.05 L1473.0 305.84 L1474.0 304.63 L1475.0 303.43 L1476.0 302.23 L1477.0 301.03 L1478.0 299.85 L1479.0 298.66 L1480.0 297.49 L1481.0 296.32 L1482.0 295.15 L1483.0 293.99 L1484.0 292.84 L1485.0 291.70 L1486.0 290.59 L1487.0 289.50 L1488.0 288.45 L1489.0 287.44 L1490.0 286.47 L1491.0 285.56 L1492.0 284.71 L1493.0 283.92 L1494.0 283.20 L1495.0 282.55 L1496.0 281.99 L1497.0 281.51 L1498.0 281.12 L1499.0 280.82 L1500.0 280.62 L1501.0 280.51 L1502.0 280.50 L1503.0 280.59 L1504.0 280.79 L1505.0 281.08 L1506.0 281.47 L1507.0 281.94 L1508.0 282.51 L1509.0 283.16 L1510.0 283.89 L1511.0 284.70 L1512.0 285.58 L1513.0 286.54 L1514.0 287.56 L1515.0 288.64 L1516.0 289.76 L1517.0 290.93 L1518.0 292.13 L1519.0 293.35 L1520.0 294.60 L1521.0 295.85 L1522.0 297.10 L1523.0 298.35 L1524.0 299.58 L1525.0 300.79 L1526.0 301.98 L1527.0 303.15 L1528.0 304.29 L1529.0 305.42 L1530.0 306.53 L1531.0 307.62 L1532.0 308.69 L1533.0 309.74 L1534.0 310.78 L1535.0 311.80 L1536.0 312.80 L1537.0 313.79 L1538.0 314.76 L1539.0 315.71 L1540.0 316.64 L1541.0 317.54 L1542.0 318.41 L1543.0 319.24 L1544.0 320.03 L1545.0 320.77 L1546.0 321.47 L1547.0 322.12 L1548.0 322.72 L1549.0 323.25 L1550.0 323.73 L1551.0 324.15 L1552.0 324.51 L1553.0 324.81 L1554.0 325.06 L1555.0 325.25 L1556.0 325.39 L1557.0 325.48 L1558.0 325.52 L1559.0 325.51 L1560.0 325.46 L1561.0 325.35 L1562.0 325.20 L1563.0 325.00 L1564.0 324.75 L1565.0 324.45 L1566.0 324.11 L1567.0 323.72 L1568.0 323.29 L1569.0 322.81 L1570.0 322.28 L1571.0 321.72 L1572.0 321.11 L1573.0 320.47 L1574.0 319.79 L1575.0 319.08 L1576.0 318.34 L1577.0 317.57 L1578.0 316.77 L1579.0 315.95 L1580.0 315.10 L1581.0 314.24 L1582.0 313.35 L1583.0 312.45 L1584.0 311.53 L1585.0 310.58 L1586.0 309.62 L1587.0 308.63 L1588.0 307.62 L1589.0 306.58 L1590.0 305.52 L1591.0 304.44 L1592.0 303.33 L1593.0 302.20 L1594.0 301.04 L1595.0 299.85 L1596.0 298.64 L1597.0 297.40 L1598.0 296.14 L1599.0 294.85 L1600.0 293.53 L1601.0 292.19 L1602.0 290.82 L1603.0 289.43 L1604.0 288.01 L1605.0 286.57 L1606.0 285.11 L1607.0 283.62 L1608.0 282.10 L1609.0 280.56 L1610.0 279.00 L1611.0 277.41 L1612.0 275.81 L1613.0 274.20 L1614.0 272.59 L1615.0 270.98 L1616.0 269.39 L1617.0 267.81 L1618.0 266.26 L1619.0 264.75 L1620.0 263.27 L1621.0 261.84 L1622.0 260.45 L1623.0 259.10 L1624.0 257.78 L1625.0 256.50 L1626.0 255.25 L1627.0 254.04 L1628.0 252.85 L1629.0 251.70 L1630.0 250.57 L1631.0 249.46 L1632.0 248.38 L1633.0 247.31 L1634.0 246.27 L1635.0 245.25 L1636.0 244.24 L1637.0 243.24 L1638.0 242.26 L1639.0 241.29 L1640.0 240.33 L1641.0 239.37 L1642.0 238.43 L1643.0 237.51 L1644.0 236.60 L1645.0 235.70 L1646.0 234.83 L1647.0 233.98 L1648.0 233.16 L1649.0 232.36 L1650.0 231.59 L1651.0 230.85 L1652.0 230.15 L1653.0 229.48 L1654.0 228.85 L1655.0 228.25 L1656.0 227.70 L1657.0 227.19 L1658.0 226.73 L1659.0 226.30 L1660.0 225.92 L1661.0 225.58 L1662.0 225.28 L1663.0 225.03 L1664.0 224.81 L1665.0 224.63 L1666.0 224.49 L1667.0 224.39 L1668.0 224.33 L1669.0 224.30 L1670.0 224.31 L1671.0 224.36 L1672.0 224.45 L1673.0 224.57 L1674.0 224.73 L1675.0 224.92 L1676.0 225.16 L1677.0 225.43 L1678.0 225.74 L1679.0 226.09 L1680.0 226.47 L1681.0 226.89 L1682.0 227.35 L1683.0 227.85 L1684.0 228.39 L1685.0 228.96 L1686.0 229.57 L1687.0 230.20 L1688.0 230.87 L1689.0 231.56 L1690.0 232.28 L1691.0 233.02 L1692.0 233.78 L1693.0 234.56 L1694.0 235.35 L1695.0 236.16 L1696.0 236.98 L1697.0 237.81 L1698.0 238.65 L1699.0 239.50 L1700.0 240.35 L1701.0 241.20 L1701.0 341.60 L1700.0 341.70 L1699.0 341.79 L1698.0 341.89 L1697.0 341.98 L1696.0 342.08 L1695.0 342.17 L1694.0 342.27 L1693.0 342.36 L1692.0 342.46 L1691.0 342.55 L1690.0 342.65 L1689.0 342.74 L1688.0 342.84 L1687.0 342.93 L1686.0 343.03 L1685.0 343.12 L1684.0 343.22 L1683.0 343.31 L1682.0 343.41 L1681.0 343.50 L1680.0 343.60 L1679.0 343.69 L1678.0 343.79 L1677.0 343.88 L1676.0 343.98 L1675.0 344.07 L1674.0 344.17 L1673.0 344.26 L1672.0 344.36 L1671.0 344.45 L1670.0 344.55 L1669.0 344.64 L1668.0 344.73 L1667.0 344.83 L1666.0 344.92 L1665.0 345.02 L1664.0 345.11 L1663.0 345.20 L1662.0 345.30 L1661.0 345.39 L1660.0 345.48 L1659.0 345.58 L1658.0 345.67 L1657.0 345.76 L1656.0 345.85 L1655.0 345.95 L1654.0 346.04 L1653.0 346.13 L1652.0 346.22 L1651.0 346.32 L1650.0 346.41 L1649.0 346.50 L1648.0 346.59 L1647.0 346.69 L1646.0 346.78 L1645.0 346.87 L1644.0 346.96 L1643.0 347.05 L1642.0 347.15 L1641.0 347.24 L1640.0 347.33 L1639.0 347.42 L1638.0 347.52 L1637.0 347.61 L1636.0 347.70 L1635.0 347.79 L1634.0 347.89 L1633.0 347.98 L1632.0 348.07 L1631.0 348.16 L1630.0 348.26 L1629.0 348.35 L1628.0 348.44 L1627.0 348.53 L1626.0 348.63 L1625.0 348.72 L1624.0 348.81 L1623.0 348.91 L1622.0 349.00 L1621.0 349.09 L1620.0 349.18 L1619.0 349.28 L1618.0 349.37 L1617.0 349.46 L1616.0 349.55 L1615.0 349.64 L1614.0 349.73 L1613.0 349.82 L1612.0 349.91 L1611.0 350.00 L1610.0 350.09 L1609.0 350.18 L1608.0 350.27 L1607.0 350.36 L1606.0 350.45 L1605.0 350.54 L1604.0 350.62 L1603.0 350.71 L1602.0 350.80 L1601.0 350.88 L1600.0 350.97 L1599.0 351.05 L1598.0 351.13 L1597.0 351.22 L1596.0 351.30 L1595.0 351.38 L1594.0 351.46 L1593.0 351.54 L1592.0 351.62 L1591.0 351.70 L1590.0 351.78 L1589.0 351.86 L1588.0 351.93 L1587.0 352.01 L1586.0 352.09 L1585.0 352.16 L1584.0 352.24 L1583.0 352.31 L1582.0 352.39 L1581.0 352.46 L1580.0 352.54 L1579.0 352.61 L1578.0 352.68 L1577.0 352.76 L1576.0 352.83 L1575.0 352.90 L1574.0 352.97 L1573.0 353.05 L1572.0 353.12 L1571.0 353.19 L1570.0 353.26 L1569.0 353.33 L1568.0 353.40 L1567.0 353.47 L1566.0 353.54 L1565.0 353.62 L1564.0 353.69 L1563.0 353.76 L1562.0 353.83 L1561.0 353.90 L1560.0 353.97 L1559.0 354.04 L1558.0 354.11 L1557.0 354.18 L1556.0 354.25 L1555.0 354.33 L1554.0 354.40 L1553.0 354.47 L1552.0 354.54 L1551.0 354.62 L1550.0 354.69 L1549.0 354.77 L1548.0 354.84 L1547.0 354.92 L1546.0 354.99 L1545.0 355.07 L1544.0 355.15 L1543.0 355.23 L1542.0 355.30 L1541.0 355.38 L1540.0 355.46 L1539.0 355.55 L1538.0 355.63 L1537.0 355.71 L1536.0 355.80 L1535.0 355.88 L1534.0 355.97 L1533.0 356.06 L1532.0 356.15 L1531.0 356.24 L1530.0 356.33 L1529.0 356.42 L1528.0 356.51 L1527.0 356.61 L1526.0 356.71 L1525.0 356.80 L1524.0 356.90 L1523.0 357.00 L1522.0 357.10 L1521.0 357.20 L1520.0 357.31 L1519.0 357.41 L1518.0 357.51 L1517.0 357.62 L1516.0 357.73 L1515.0 357.83 L1514.0 357.94 L1513.0 358.05 L1512.0 358.16 L1511.0 358.27 L1510.0 358.38 L1509.0 358.50 L1508.0 358.61 L1507.0 358.72 L1506.0 358.84 L1505.0 358.95 L1504.0 359.07 L1503.0 359.18 L1502.0 359.30 L1501.0 359.42 L1500.0 359.53 L1499.0 359.65 L1498.0 359.77 L1497.0 359.89 L1496.0 360.01 L1495.0 360.13 L1494.0 360.25 L1493.0 360.37 L1492.0 360.49 L1491.0 360.61 L1490.0 360.73 L1489.0 360.85 L1488.0 360.98 L1487.0 361.10 L1486.0 361.23 L1485.0 361.35 L1484.0 361.48 L1483.0 361.61 L1482.0 361.74 L1481.0 361.87 L1480.0 362.00 L1479.0 362.13 L1478.0 362.27 L1477.0 362.40 L1476.0 362.54 L1475.0 362.68 L1474.0 362.82 L1473.0 362.96 L1472.0 363.10 L1471.0 363.25 L1470.0 363.39 L1469.0 363.54 L1468.0 363.69 L1467.0 363.84 L1466.0 363.99 L1465.0 364.15 L1464.0 364.30 L1463.0 364.46 L1462.0 364.62 L1461.0 364.79 L1460.0 364.95 L1459.0 365.12 L1458.0 365.28 L1457.0 365.45 L1456.0 365.61 L1455.0 365.78 L1454.0 365.95 L1453.0 366.11 L1452.0 366.28 L1451.0 366.44 L1450.0 366.60 L1449.0 366.76 L1448.0 366.92 L1447.0 367.07 L1446.0 367.23 L1445.0 367.38 L1444.0 367.53 L1443.0 367.68 L1442.0 367.83 L1441.0 367.98 L1440.0 368.12 L1439.0 368.27 L1438.0 368.41 L1437.0 368.55 L1436.0 368.69 L1435.0 368.83 L1434.0 368.96 L1433.0 369.10 L1432.0 369.23 L1431.0 369.37 L1430.0 369.50 L1429.0 369.63 L1428.0 369.76 L1427.0 369.89 L1426.0 370.02 L1425.0 370.14 L1424.0 370.26 L1423.0 370.39 L1422.0 370.51 L1421.0 370.63 L1420.0 370.74 L1419.0 370.86 L1418.0 370.97 L1417.0 371.08 L1416.0 371.19 L1415.0 371.30 L1414.0 371.40 L1413.0 371.50 L1412.0 371.60 L1411.0 371.70 L1410.0 371.79 L1409.0 371.89 L1408.0 371.98 L1407.0 372.07 L1406.0 372.16 L1405.0 372.24 L1404.0 372.33 L1403.0 372.42 L1402.0 372.50 L1401.0 372.59 L1400.0 372.67 L1399.0 372.76 L1398.0 372.84 L1397.0 372.92 L1396.0 373.01 L1395.0 373.09 L1394.0 373.18 L1393.0 373.26 L1392.0 373.35 L1391.0 373.44 L1390.0 373.52 L1389.0 373.61 L1388.0 373.69 L1387.0 373.78 L1386.0 373.87 L1385.0 373.95 L1384.0 374.03 L1383.0 374.12 L1382.0 374.20 L1381.0 374.28 L1380.0 374.36 L1379.0 374.44 L1378.0 374.52 L1377.0 374.60 L1376.0 374.68 L1375.0 374.75 L1374.0 374.82 L1373.0 374.90 L1372.0 374.97 L1371.0 375.03 L1370.0 375.10 L1369.0 375.17 L1368.0 375.23 L1367.0 375.29 L1366.0 375.35 L1365.0 375.41 L1364.0 375.46 L1363.0 375.52 L1362.0 375.57 L1361.0 375.62 L1360.0 375.67 L1359.0 375.72 L1358.0 375.77 L1357.0 375.82 L1356.0 375.86 L1355.0 375.90 L1354.0 375.94 L1353.0 375.98 L1352.0 376.02 L1351.0 376.06 L1350.0 376.10 L1349.0 376.13 L1348.0 376.16 L1347.0 376.20 L1346.0 376.23 L1345.0 376.26 L1344.0 376.29 L1343.0 376.31 L1342.0 376.34 L1341.0 376.36 L1340.0 376.38 L1339.0 376.40 L1338.0 376.42 L1337.0 376.43 L1336.0 376.45 L1335.0 376.46 L1334.0 376.46 L1333.0 376.47 L1332.0 376.47 L1331.0 376.47 L1330.0 376.46 L1329.0 376.45 L1328.0 376.44 L1327.0 376.43 L1326.0 376.41 L1325.0 376.38 L1324.0 376.36 L1323.0 376.32 L1322.0 376.29 L1321.0 376.25 L1320.0 376.20 L1319.0 376.16 L1318.0 376.10 L1317.0 376.05 L1316.0 375.99 L1315.0 375.92 L1314.0 375.85 L1313.0 375.78 L1312.0 375.70 L1311.0 375.62 L1310.0 375.54 L1309.0 375.45 L1308.0 375.36 L1307.0 375.26 L1306.0 375.16 L1305.0 375.06 L1304.0 374.95 L1303.0 374.84 L1302.0 374.73 L1301.0 374.61 L1300.0 374.49 L1299.0 374.37 L1298.0 374.24 L1297.0 374.11 L1296.0 373.97 L1295.0 373.84 L1294.0 373.70 L1293.0 373.55 L1292.0 373.40 L1291.0 373.25 L1290.0 373.10 L1289.0 372.94 L1288.0 372.78 L1287.0 372.61 L1286.0 372.44 L1285.0 372.27 L1284.0 372.09 L1283.0 371.91 L1282.0 371.73 L1281.0 371.54 L1280.0 371.34 L1279.0 371.15 L1278.0 370.95 L1277.0 370.74 L1276.0 370.53 L1275.0 370.32 L1274.0 370.10 L1273.0 369.88 L1272.0 369.65 L1271.0 369.42 L1270.0 369.18 L1269.0 368.94 L1268.0 368.70 L1267.0 368.45 L1266.0 368.20 L1265.0 367.94 L1264.0 367.67 L1263.0 367.41 L1262.0 367.13 L1261.0 366.86 L1260.0 366.57 L1259.0 366.29 L1258.0 365.99 L1257.0 365.69 L1256.0 365.39 L1255.0 365.07 L1254.0 364.75 L1253.0 364.43 L1252.0 364.09 L1251.0 363.74 L1250.0 363.39 L1249.0 363.02 L1248.0 362.65 L1247.0 362.26 L1246.0 361.87 L1245.0 361.47 L1244.0 361.06 L1243.0 360.64 L1242.0 360.21 L1241.0 359.78 L1240.0 359.34 L1239.0 358.90 L1238.0 358.46 L1237.0 358.01 L1236.0 357.55 L1235.0 357.10 L1234.0 356.64 L1233.0 356.18 L1232.0 355.71 L1231.0 355.23 L1230.0 354.74 L1229.0 354.24 L1228.0 353.73 L1227.0 353.20 L1226.0 352.66 L1225.0 352.10 L1224.0 351.52 L1223.0 350.92 L1222.0 350.30 L1221.0 349.66 L1220.0 349.00 L1219.0 348.32 L1218.0 347.63 L1217.0 346.92 L1216.0 346.20 L1215.0 345.47 L1214.0 344.72 L1213.0 343.96 L1212.0 343.19 L1211.0 342.41 L1210.0 341.62 L1209.0 340.83 L1208.0 340.03 L1207.0 339.22 L1206.0 338.41 L1205.0 337.60 L1204.0 336.78 L1203.0 335.97 L1202.0 335.16 L1201.0 334.35 L1200.0 333.54 L1199.0 332.74 L1198.0 331.94 L1197.0 331.15 L1196.0 330.36 L1195.0 329.57 L1194.0 328.79 L1193.0 328.00 L1192.0 327.21 L1191.0 326.41 L1190.0 325.61 L1189.0 324.81 L1188.0 324.00 L1187.0 323.18 L1186.0 322.35 L1185.0 321.52 L1184.0 320.67 L1183.0 319.81 L1182.0 318.93 L1181.0 318.05 L1180.0 317.15 L1179.0 316.23 L1178.0 315.30 L1177.0 314.35 L1176.0 313.38 L1175.0 312.40 L1174.0 311.40 L1173.0 310.37 L1172.0 309.33 L1171.0 308.28 L1170.0 307.20 L1169.0 306.11 L1168.0 305.01 L1167.0 303.90 L1166.0 302.77 L1165.0 301.63 L1164.0 300.48 L1163.0 299.32 L1162.0 298.15 L1161.0 296.97 L1160.0 295.79 L1159.0 294.60 L1158.0 293.40 L1157.0 292.20 L1156.0 290.99 L1155.0 289.78 L1154.0 288.57 L1153.0 287.36 L1152.0 286.14 L1151.0 284.92 L1150.0 283.70 L1149.0 282.48 L1148.0 281.26 L1147.0 280.04 L1146.0 278.81 L1145.0 277.59 L1144.0 276.36 L1143.0 275.12 L1142.0 273.88 L1141.0 272.63 L1140.0 271.38 L1139.0 270.12Z" fill="#b3e5a1" fill-opacity="0.5"/>
<path d="M55.0 207.70 L56.0 207.55 L57.0 207.41 L58.0 207.26 L59.0 207.12 L60.0 206.97 L61.0 206.83 L62.0 206.68 L63.0 206.54 L64.0 206.40 L65.0 206.26 L66.0 206.12 L67.0 205.99 L68.0 205.85 L69.0 205.72 L70.0 205.59 L71.0 205.47 L72.0 205.35 L73.0 205.23 L74.0 205.11 L75.0 205.00 L76.0 204.89 L77.0 204.79 L78.0 204.69 L79.0 204.60 L80.0 204.51 L81.0 204.42 L82.0 204.35 L83.0 204.27 L84.0 204.21 L85.0 204.14 L86.0 204.09 L87.0 204.04 L88.0 204.00 L89.0 203.96 L90.0 203.94 L91.0 203.92 L92.0 203.90 L93.0 203.90 L94.0 203.90 L95.0 203.91 L96.0 203.93 L97.0 203.96 L98.0 203.99 L99.0 204.03 L100.0 204.08 L101.0 204.13 L102.0 204.18 L103.0 204.25 L104.0 204.31 L105.0 204.39 L106.0 204.46 L107.0 204.54 L108.0 204.63 L109.0 204.72 L110.0 204.81 L111.0 204.90 L112.0 205.00 L113.0 205.10 L114.0 205.20 L115.0 205.31 L116.0 205.41 L117.0 205.52 L118.0 205.64 L119.0 205.75 L120.0 205.87 L121.0 205.99 L122.0 206.12 L123.0 206.25 L124.0 206.38 L125.0 206.51 L126.0 206.65 L127.0 206.79 L128.0 206.93 L129.0 207.08 L130.0 207.23 L131.0 207.38 L132.0 207.54 L133.0 207.70 L134.0 207.86 L135.0 208.03 L136.0 208.21 L137.0 208.38 L138.0 208.56 L139.0 208.74 L140.0 208.93 L141.0 209.12 L142.0 209.31 L143.0 209.51 L144.0 209.71 L145.0 209.91 L146.0 210.11 L147.0 210.32 L148.0 210.53 L149.0 210.75 L150.0 210.97 L151.0 211.19 L152.0 211.41 L153.0 211.64 L154.0 211.87 L155.0 212.10 L156.0 212.33 L157.0 212.57 L158.0 212.81 L159.0 213.05 L160.0 213.30 L161.0 213.55 L162.0 213.80 L163.0 214.05 L164.0 214.30 L165.0 214.56 L166.0 214.82 L167.0 215.08 L168.0 215.34 L169.0 215.61 L170.0 215.87 L171.0 216.14 L172.0 216.42 L173.0 216.69 L174.0 216.97 L175.0 217.25 L176.0 217.53 L177.0 217.81 L178.0 218.10 L179.0 218.38 L180.0 218.67 L181.0 218.97 L182.0 219.26 L183.0 219.56 L184.0 219.86 L185.0 220.16 L186.0 220.47 L187.0 220.77 L188.0 221.08 L189.0 221.40 L190.0 221.71 L191.0 222.03 L192.0 222.35 L193.0 222.67 L194.0 223.00 L195.0 223.32 L196.0 223.65 L197.0 223.99 L198.0 224.32 L199.0 224.66 L200.0 225.00 L201.0 225.34 L202.0 225.69 L203.0 226.04 L204.0 226.39 L205.0 226.74 L206.0 227.10 L207.0 227.46 L208.0 227.82 L209.0 228.19 L210.0 228.55 L211.0 228.92 L212.0 229.30 L213.0 229.67 L214.0 230.05 L215.0 230.43 L216.0 230.81 L217.0 231.20 L218.0 231.58 L219.0 231.97 L220.0 232.37 L221.0 232.76 L222.0 233.16 L223.0 233.56 L224.0 233.96 L225.0 234.37 L226.0 234.78 L227.0 235.19 L228.0 235.60 L229.0 236.01 L230.0 236.43 L231.0 236.85 L232.0 237.28 L233.0 237.70 L234.0 238.13 L235.0 238.56 L236.0 238.99 L237.0 239.42 L238.0 239.86 L239.0 240.30 L240.0 240.74 L241.0 241.18 L242.0 241.63 L243.0 242.08 L244.0 242.53 L245.0 242.98 L246.0 243.44 L247.0 243.89 L248.0 244.35 L249.0 244.81 L250.0 245.28 L251.0 245.74 L252.0 246.21 L253.0 246.68 L254.0 247.15 L255.0 247.62 L256.0 248.10 L257.0 248.58 L258.0 249.05 L259.0 249.54 L260.0 250.02 L261.0 250.50 L262.0 250.99 L263.0 251.48 L264.0 251.97 L265.0 252.46 L266.0 252.95 L267.0 253.45 L268.0 253.95 L269.0 254.44 L270.0 254.94 L271.0 255.45 L272.0 255.95 L273.0 256.45 L274.0 256.96 L275.0 257.47 L276.0 257.97 L277.0 258.48 L278.0 258.99 L279.0 259.50 L280.0 260.02 L281.0 260.53 L282.0 261.04 L283.0 261.55 L284.0 262.07 L285.0 262.58 L286.0 263.10 L287.0 263.61 L288.0 264.13 L289.0 264.64 L290.0 265.16 L291.0 265.67 L292.0 266.19 L293.0 266.70 L294.0 267.22 L295.0 267.73 L296.0 268.25 L297.0 268.76 L298.0 269.28 L299.0 269.79 L300.0 270.30 L301.0 270.81 L302.0 271.32 L303.0 271.83 L304.0 272.34 L305.0 272.85 L306.0 273.36 L307.0 273.87 L308.0 274.38 L309.0 274.88 L310.0 275.39 L311.0 275.90 L312.0 276.41 L313.0 276.92 L314.0 277.42 L315.0 277.93 L316.0 278.44 L317.0 278.95 L318.0 279.46 L319.0 279.97 L320.0 280.49 L321.0 281.00 L322.0 281.51 L323.0 282.03 L324.0 282.54 L325.0 283.06 L326.0 283.58 L327.0 284.10 L328.0 284.62 L329.0 285.14 L330.0 285.66 L331.0 286.19 L332.0 286.71 L333.0 287.24 L334.0 287.77 L335.0 288.31 L336.0 288.84 L337.0 289.38 L338.0 289.92 L339.0 290.46 L340.0 291.00 L341.0 291.55 L342.0 292.09 L343.0 292.64 L344.0 293.19 L345.0 293.75 L346.0 294.30 L347.0 294.86 L348.0 295.41 L349.0 295.97 L350.0 296.53 L351.0 297.09 L352.0 297.65 L353.0 298.20 L354.0 298.76 L355.0 299.32 L356.0 299.88 L357.0 300.43 L358.0 300.99 L359.0 301.54 L360.0 302.09 L361.0 302.64 L362.0 303.19 L363.0 303.73 L364.0 304.28 L365.0 304.82 L366.0 305.35 L367.0 305.89 L368.0 306.42 L369.0 306.95 L370.0 307.47 L371.0 308.00 L372.0 308.52 L373.0 309.03 L374.0 309.55 L375.0 310.06 L376.0 310.56 L377.0 311.07 L378.0 311.57 L379.0 312.06 L380.0 312.55 L381.0 313.04 L382.0 313.53 L383.0 314.01 L384.0 314.48 L385.0 314.96 L386.0 315.43 L387.0 315.89 L388.0 316.35 L389.0 316.81 L390.0 317.26 L391.0 317.71 L392.0 318.15 L393.0 318.59 L394.0 319.03 L395.0 319.46 L396.0 319.89 L397.0 320.31 L398.0 320.73 L399.0 321.14 L400.0 321.55 L401.0 321.96 L402.0 322.36 L403.0 322.76 L404.0 323.15 L405.0 323.54 L406.0 323.93 L407.0 324.31 L408.0 324.69 L409.0 325.06 L410.0 325.43 L411.0 325.80 L412.0 326.16 L413.0 326.52 L414.0 326.87 L415.0 327.22 L416.0 327.57 L417.0 327.91 L418.0 328.25 L419.0 328.58 L420.0 328.91 L421.0 329.24 L422.0 329.57 L423.0 329.89 L424.0 330.21 L425.0 330.53 L426.0 330.84 L427.0 331.16 L428.0 331.47 L429.0 331.78 L430.0 332.08 L431.0 332.39 L432.0 332.69 L433.0 332.99 L434.0 333.29 L435.0 333.59 L436.0 333.89 L437.0 334.19 L438.0 334.48 L439.0 334.78 L440.0 335.07 L441.0 335.37 L442.0 335.66 L443.0 335.95 L444.0 336.24 L445.0 336.53 L446.0 336.82 L447.0 337.11 L448.0 337.39 L449.0 337.68 L450.0 337.96 L451.0 338.25 L452.0 338.53 L453.0 338.81 L454.0 339.08 L455.0 339.36 L456.0 339.63 L457.0 339.91 L458.0 340.18 L459.0 340.45 L460.0 340.71 L461.0 340.98 L462.0 341.24 L463.0 341.50 L464.0 341.76 L465.0 342.01 L466.0 342.27 L467.0 342.52 L468.0 342.77 L469.0 343.02 L470.0 343.27 L471.0 343.52 L472.0 343.76 L473.0 344.01 L474.0 344.25 L475.0 344.50 L476.0 344.75 L477.0 344.99 L478.0 345.24 L479.0 345.49 L480.0 345.73 L481.0 345.98 L482.0 346.24 L483.0 346.49 L484.0 346.74 L485.0 347.00 L486.0 347.26 L487.0 347.52 L488.0 347.78 L489.0 348.04 L490.0 348.31 L491.0 348.58 L492.0 348.86 L493.0 349.13 L494.0 349.41 L495.0 349.68 L496.0 349.96 L497.0 350.24 L498.0 350.53 L499.0 350.81 L500.0 351.09 L501.0 351.38 L502.0 351.66 L503.0 351.95 L504.0 352.24 L505.0 352.52 L506.0 352.81 L507.0 353.09 L508.0 353.38 L509.0 353.67 L510.0 353.95 L511.0 354.23 L512.0 354.52 L513.0 354.80 L514.0 355.08 L515.0 355.36 L516.0 355.63 L517.0 355.91 L518.0 356.19 L519.0 356.46 L520.0 356.73 L521.0 357.01 L522.0 357.28 L523.0 357.55 L524.0 357.82 L525.0 358.09 L526.0 358.35 L527.0 358.62 L528.0 358.88 L529.0 359.15 L530.0 359.41 L531.0 359.67 L532.0 359.93 L533.0 360.19 L534.0 360.45 L535.0 360.71 L536.0 360.97 L537.0 361.23 L538.0 361.48 L539.0 361.74 L540.0 361.99 L541.0 362.24 L542.0 362.50 L543.0 362.75 L544.0 363.00 L545.0 363.25 L546.0 363.50 L547.0 363.76 L548.0 364.01 L549.0 364.26 L550.0 364.51 L551.0 364.76 L552.0 365.01 L553.0 365.26 L554.0 365.51 L555.0 365.76 L556.0 366.01 L557.0 366.26 L558.0 366.51 L559.0 366.77 L560.0 367.02 L561.0 367.27 L562.0 367.53 L563.0 367.78 L564.0 368.04 L565.0 368.29 L566.0 368.55 L567.0 368.81 L568.0 369.07 L569.0 369.32 L570.0 369.58 L571.0 369.84 L572.0 370.10 L573.0 370.36 L574.0 370.62 L575.0 370.89 L576.0 371.15 L577.0 371.41 L578.0 371.67 L579.0 371.93 L580.0 372.20 L581.0 372.46 L582.0 372.72 L583.0 372.98 L584.0 373.25 L585.0 373.51 L586.0 373.77 L587.0 374.04 L588.0 374.30 L589.0 374.56 L590.0 374.83 L591.0 375.09 L592.0 375.35 L593.0 375.61 L594.0 375.87 L595.0 376.13 L596.0 376.39 L597.0 376.65 L598.0 376.90 L599.0 377.16 L600.0 377.41 L601.0 377.66 L602.0 377.91 L603.0 378.16 L604.0 378.41 L605.0 378.65 L606.0 378.89 L607.0 379.13 L608.0 379.37 L609.0 379.61 L610.0 379.84 L611.0 380.07 L612.0 380.30 L613.0 380.52 L614.0 380.74 L615.0 380.96 L616.0 381.17 L617.0 381.39 L618.0 381.60 L619.0 381.80 L620.0 382.01 L621.0 382.21 L622.0 382.41 L623.0 382.60 L624.0 382.80 L625.0 382.99 L626.0 383.18 L627.0 383.36 L628.0 383.54 L629.0 383.72 L630.0 383.90 L631.0 384.08 L632.0 384.25 L633.0 384.42 L634.0 384.59 L635.0 384.75 L636.0 384.91 L637.0 385.07 L638.0 385.23 L639.0 385.38 L640.0 385.54 L641.0 385.68 L642.0 385.83 L643.0 385.97 L644.0 386.11 L645.0 386.25 L646.0 386.38 L647.0 386.51 L648.0 386.64 L649.0 386.77 L650.0 386.89 L651.0 387.00 L652.0 387.12 L653.0 387.23 L654.0 387.34 L655.0 387.44 L656.0 387.54 L657.0 387.64 L658.0 387.73 L659.0 387.82 L660.0 387.90 L661.0 387.98 L662.0 388.06 L663.0 388.13 L664.0 388.20 L665.0 388.26 L666.0 388.32 L667.0 388.38 L668.0 388.43 L669.0 388.47 L670.0 388.52 L671.0 388.55 L672.0 388.59 L673.0 388.62 L674.0 388.64 L675.0 388.66 L676.0 388.68 L677.0 388.69 L678.0 388.69 L679.0 388.69 L680.0 388.69 L681.0 388.68 L682.0 388.66 L683.0 388.64 L684.0 388.62 L685.0 388.59 L686.0 388.55 L687.0 388.51 L688.0 388.47 L689.0 388.42 L690.0 388.36 L691.0 388.30 L692.0 388.23 L693.0 388.16 L694.0 388.08 L695.0 388.00 L696.0 387.92 L697.0 387.82 L698.0 387.73 L699.0 387.63 L700.0 387.52 L701.0 387.41 L702.0 387.29 L703.0 387.17 L704.0 387.04 L705.0 386.91 L706.0 386.77 L707.0 386.63 L708.0 386.48 L709.0 386.33 L710.0 386.17 L711.0 386.01 L712.0 385.85 L713.0 385.67 L714.0 385.49 L715.0 385.31 L716.0 385.12 L717.0 384.92 L718.0 384.72 L719.0 384.51 L720.0 384.29 L721.0 384.06 L722.0 383.83 L723.0 383.59 L724.0 383.34 L725.0 383.08 L726.0 382.81 L727.0 382.53 L728.0 382.25 L729.0 381.95 L730.0 381.65 L731.0 381.33 L732.0 381.01 L733.0 380.68 L734.0 380.33 L735.0 379.97 L736.0 379.61 L737.0 379.23 L738.0 378.83 L739.0 378.43 L740.0 378.01 L741.0 377.58 L742.0 377.14 L743.0 376.67 L744.0 376.20 L745.0 375.71 L746.0 375.20 L747.0 374.68 L748.0 374.14 L749.0 373.58 L750.0 373.00 L751.0 372.41 L752.0 371.80 L753.0 371.17 L754.0 370.51 L755.0 369.84 L756.0 369.15 L757.0 368.44 L758.0 367.70 L759.0 366.94 L760.0 366.16 L761.0 365.35 L762.0 364.52 L763.0 363.65 L764.0 362.75 L765.0 361.81 L766.0 360.83 L767.0 359.81 L768.0 358.74 L769.0 357.63 L770.0 356.46 L771.0 355.25 L772.0 353.98 L773.0 352.65 L774.0 351.26 L775.0 349.80 L776.0 348.28 L777.0 346.70 L778.0 345.06 L779.0 343.36 L780.0 341.61 L781.0 339.82 L782.0 337.99 L783.0 336.13 L784.0 334.23 L785.0 332.32 L786.0 330.38 L787.0 328.44 L788.0 326.49 L789.0 324.53 L790.0 322.58 L791.0 320.63 L792.0 318.70 L793.0 316.77 L794.0 314.84 L795.0 312.91 L796.0 310.98 L797.0 309.03 L798.0 307.08 L799.0 305.11 L800.0 303.12 L801.0 301.10 L802.0 299.07 L803.0 297.00 L804.0 294.90 L805.0 292.77 L806.0 290.61 L807.0 288.43 L808.0 286.21 L809.0 283.98 L810.0 281.72 L811.0 279.44 L812.0 277.14 L813.0 274.82 L814.0 272.48 L815.0 270.13 L816.0 267.77 L817.0 265.40 L818.0 263.01 L819.0 260.62 L820.0 258.22 L821.0 255.82 L822.0 253.41 L823.0 251.00 L824.0 248.59 L825.0 246.18 L826.0 243.77 L827.0 241.36 L828.0 238.95 L829.0 236.55 L830.0 234.14 L831.0 231.74 L832.0 229.34 L833.0 226.95 L834.0 224.56 L835.0 222.17 L836.0 219.78 L837.0 217.40 L838.0 215.03 L839.0 212.66 L840.0 210.29 L841.0 207.93 L842.0 205.59 L843.0 203.26 L844.0 200.95 L845.0 198.67 L846.0 196.41 L847.0 194.19 L848.0 192.01 L849.0 189.87 L850.0 187.78 L851.0 185.75 L852.0 183.77 L853.0 181.85 L854.0 179.99 L855.0 178.21 L856.0 176.50 L857.0 174.87 L858.0 173.30 L859.0 171.80 L860.0 170.33 L861.0 168.88 L862.0 167.45 L863.0 166.00 L864.0 164.54 L865.0 163.06 L866.0 161.58 L867.0 160.11 L868.0 158.66 L869.0 157.24 L870.0 155.87 L871.0 154.54 L872.0 153.29 L873.0 152.10 L874.0 151.00 L875.0 149.99 L876.0 149.08 L877.0 148.27 L878.0 147.54 L879.0 146.91 L880.0 146.37 L881.0 145.93 L882.0 145.57 L883.0 145.29 L884.0 145.11 L885.0 145.01 L886.0 145.00 L887.0 145.07 L888.0 145.23 L889.0 145.46 L890.0 145.77 L891.0 146.16 L892.0 146.62 L893.0 147.16 L894.0 147.77 L895.0 148.45 L896.0 149.19 L897.0 150.00 L898.0 150.87 L899.0 151.81 L900.0 152.81 L901.0 153.88 L902.0 155.02 L903.0 156.22 L904.0 157.48 L905.0 158.82 L906.0 160.22 L907.0 161.69 L908.0 163.23 L909.0 164.83 L910.0 166.51 L911.0 168.26 L912.0 170.06 L913.0 171.93 L914.0 173.85 L915.0 175.82 L916.0 177.83 L917.0 179.88 L918.0 181.96 L919.0 184.08 L920.0 186.21 L921.0 188.36 L922.0 190.53 L923.0 192.70 L924.0 194.88 L925.0 197.05 L926.0 199.23 L927.0 201.40 L928.0 203.57 L929.0 205.72 L930.0 207.87 L931.0 210.00 L932.0 212.12 L933.0 214.23 L934.0 216.31 L935.0 218.37 L936.0 220.41 L937.0 222.42 L938.0 224.40 L939.0 226.35 L940.0 228.27 L941.0 230.16 L942.0 232.00 L943.0 233.81 L944.0 235.57 L945.0 237.29 L946.0 238.96 L947.0 240.58 L948.0 242.14 L949.0 243.65 L950.0 245.10 L951.0 246.49 L952.0 247.81 L953.0 249.06 L954.0 250.25 L955.0 251.36 L956.0 252.40 L957.0 253.36 L958.0 254.24 L959.0 255.03 L960.0 255.73 L961.0 256.34 L962.0 256.84 L963.0 257.23 L964.0 257.51 L965.0 257.67 L966.0 257.71 L967.0 257.62 L968.0 257.40 L969.0 257.04 L970.0 256.52 L971.0 255.85 L972.0 255.01 L973.0 253.99 L974.0 252.79 L975.0 251.40 L976.0 249.82 L977.0 248.02 L978.0 246.04 L979.0 243.88 L980.0 241.58 L981.0 239.15 L982.0 236.61 L983.0 233.99 L984.0 231.32 L985.0 228.60 L986.0 225.87 L987.0 223.15 L988.0 220.45 L989.0 217.81 L990.0 215.24 L991.0 212.75 L992.0 210.35 L993.0 208.03 L994.0 205.79 L995.0 203.62 L996.0 201.51 L997.0 199.46 L998.0 197.48 L999.0 195.55 L1000.0 193.67 L1001.0 191.83 L1002.0 190.04 L1003.0 188.28 L1004.0 186.56 L1005.0 184.86 L1006.0 183.20 L1007.0 181.55 L1008.0 179.92 L1009.0 178.33 L1010.0 176.76 L1011.0 175.23 L1012.0 173.73 L1013.0 172.28 L1014.0 170.88 L1015.0 169.53 L1016.0 168.24 L1017.0 167.00 L1018.0 165.83 L1019.0 164.73 L1020.0 163.70 L1021.0 162.74 L1022.0 161.86 L1023.0 161.06 L1024.0 160.33 L1025.0 159.67 L1026.0 159.08 L1027.0 158.57 L1028.0 158.13 L1029.0 157.77 L1030.0 157.47 L1031.0 157.25 L1032.0 157.10 L1033.0 157.02 L1034.0 157.00 L1035.0 157.06 L1036.0 157.18 L1037.0 157.37 L1038.0 157.60 L1039.0 157.89 L1040.0 158.23 L1041.0 158.62 L1042.0 159.04 L1043.0 159.50 L1044.0 159.98 L1045.0 160.50 L1046.0 161.04 L1047.0 161.60 L1048.0 162.19 L1049.0 162.80 L1050.0 163.44 L1051.0 164.10 L1052.0 164.78 L1053.0 165.50 L1054.0 166.23 L1055.0 167.00 L1056.0 167.79 L1057.0 168.61 L1058.0 169.46 L1059.0 170.33 L1060.0 171.22 L1061.0 172.13 L1062.0 173.07 L1063.0 174.03 L1064.0 175.00 L1065.0 176.00 L1066.0 177.01 L1067.0 178.04 L1068.0 179.09 L1069.0 180.15 L1070.0 181.22 L1071.0 182.30 L1072.0 183.40 L1073.0 184.50 L1074.0 185.62 L1075.0 186.74 L1076.0 187.87 L1077.0 189.00 L1078.0 190.14 L1079.0 191.28 L1080.0 192.43 L1081.0 193.58 L1082.0 194.74 L1083.0 195.91 L1084.0 197.09 L1085.0 198.28 L1086.0 199.47 L1087.0 200.68 L1088.0 201.90 L1089.0 203.13 L1090.0 204.37 L1091.0 205.63 L1092.0 206.90 L1093.0 208.18 L1094.0 209.47 L1095.0 210.77 L1096.0 212.08 L1097.0 213.40 L1098.0 214.73 L1099.0 216.07 L1100.0 217.41 L1101.0 218.76 L1102.0 220.12 L1103.0 221.48 L1104.0 222.85 L1105.0 224.21 L1106.0 225.59 L1107.0 226.96 L1108.0 228.34 L1109.0 229.72 L1110.0 231.10 L1111.0 232.48 L1112.0 233.86 L1113.0 235.25 L1114.0 236.63 L1115.0 238.01 L1116.0 239.39 L1117.0 240.77 L1118.0 242.15 L1119.0 243.52 L1120.0 244.90 L1121.0 246.27 L1122.0 247.64 L1123.0 249.00 L1124.0 250.36 L1125.0 251.72 L1126.0 253.07 L1127.0 254.41 L1128.0 255.76 L1129.0 257.09 L1130.0 258.42 L1131.0 259.75 L1132.0 261.07 L1133.0 262.38 L1134.0 263.69 L1135.0 264.99 L1136.0 266.28 L1137.0 267.57 L1138.0 268.84 L1139.0 270.12 L1140.0 271.38 L1141.0 272.63 L1142.0 273.88 L1143.0 275.12 L1144.0 276.36 L1145.0 277.59 L1146.0 278.81 L1147.0 280.04 L1148.0 281.26 L1149.0 282.48 L1150.0 283.70 L1151.0 284.92 L1152.0 286.14 L1153.0 287.36 L1154.0 288.57 L1155.0 289.78 L1156.0 290.99 L1157.0 292.20 L1158.0 293.40 L1159.0 294.60 L1160.0 295.79 L1161.0 296.97 L1162.0 298.15 L1163.0 299.32 L1164.0 300.48 L1165.0 301.63 L1166.0 302.77 L1167.0 303.90 L1168.0 305.01 L1169.0 306.11 L1170.0 307.20 L1171.0 308.28 L1172.0 309.33 L1173.0 310.37 L1174.0 311.40 L1175.0 312.40 L1176.0 313.38 L1177.0 314.35 L1178.0 315.30 L1179.0 316.23 L1180.0 317.15 L1181.0 318.05 L1182.0 318.93 L1183.0 319.81 L1184.0 320.67 L1185.0 321.52 L1186.0 322.35 L1187.0 323.18 L1188.0 324.00 L1189.0 324.81 L1190.0 325.61 L1191.0 326.41 L1192.0 327.21 L1193.0 328.00 L1194.0 328.79 L1195.0 329.57 L1196.0 330.36 L1197.0 331.15 L1198.0 331.94 L1199.0 332.74 L1200.0 333.54 L1201.0 334.35 L1202.0 335.16 L1203.0 335.97 L1204.0 336.78 L1205.0 337.60 L1206.0 338.41 L1207.0 339.22 L1208.0 340.03 L1209.0 340.83 L1210.0 341.62 L1211.0 342.41 L1212.0 343.19 L1213.0 343.96 L1214.0 344.72 L1215.0 345.47 L1216.0 346.20 L1217.0 346.92 L1218.0 347.63 L1219.0 348.32 L1220.0 349.00 L1221.0 349.66 L1222.0 350.30 L1223.0 350.92 L1224.0 351.52 L1225.0 352.10 L1226.0 352.66 L1227.0 353.20 L1228.0 353.73 L1229.0 354.24 L1230.0 354.74 L1231.0 355.23 L1232.0 355.71 L1233.0 356.18 L1234.0 356.64 L1235.0 357.10 L1236.0 357.55 L1237.0 358.01 L1238.0 358.46 L1239.0 358.90 L1240.0 359.34 L1241.0 359.78 L1242.0 360.21 L1243.0 360.64 L1244.0 361.06 L1245.0 361.47 L1246.0 361.87 L1247.0 362.26 L1248.0 362.65 L1249.0 363.02 L1250.0 363.39 L1251.0 363.74 L1252.0 364.09 L1253.0 364.43 L1254.0 364.75 L1255.0 365.07 L1256.0 365.39 L1257.0 365.69 L1258.0 365.99 L1259.0 366.29 L1260.0 366.57 L1261.0 366.86 L1262.0 367.13 L1263.0 367.41 L1264.0 367.67 L1265.0 367.94 L1266.0 368.20 L1267.0 368.45 L1268.0 368.70 L1269.0 368.94 L1270.0 369.18 L1271.0 369.42 L1272.0 369.65 L1273.0 369.88 L1274.0 370.10 L1275.0 370.32 L1276.0 370.53 L1277.0 370.74 L1278.0 370.95 L1279.0 371.15 L1280.0 371.34 L1281.0 371.54 L1282.0 371.73 L1283.0 371.91 L1284.0 372.09 L1285.0 372.27 L1286.0 372.44 L1287.0 372.61 L1288.0 372.78 L1289.0 372.94 L1290.0 373.10 L1291.0 373.25 L1292.0 373.40 L1293.0 373.55 L1294.0 373.70 L1295.0 373.84 L1296.0 373.97 L1297.0 374.11 L1298.0 374.24 L1299.0 374.37 L1300.0 374.49 L1301.0 374.61 L1302.0 374.73 L1303.0 374.84 L1304.0 374.95 L1305.0 375.06 L1306.0 375.16 L1307.0 375.26 L1308.0 375.36 L1309.0 375.45 L1310.0 375.54 L1311.0 375.62 L1312.0 375.70 L1313.0 375.78 L1314.0 375.85 L1315.0 375.92 L1316.0 375.99 L1317.0 376.05 L1318.0 376.10 L1319.0 376.16 L1320.0 376.20 L1321.0 376.25 L1322.0 376.29 L1323.0 376.32 L1324.0 376.36 L1325.0 376.38 L1326.0 376.41 L1327.0 376.43 L1328.0 376.44 L1329.0 376.45 L1330.0 376.46 L1331.0 376.47 L1332.0 376.47 L1333.0 376.47 L1334.0 376.46 L1335.0 376.46 L1336.0 376.45 L1337.0 376.43 L1338.0 376.42 L1339.0 376.40 L1340.0 376.38 L1341.0 376.36 L1342.0 376.34 L1343.0 376.31 L1344.0 376.29 L1345.0 376.26 L1346.0 376.23 L1347.0 376.20 L1348.0 376.16 L1349.0 376.13 L1350.0 376.10 L1351.0 376.06 L1352.0 376.02 L1353.0 375.98 L1354.0 375.94 L1355.0 375.90 L1356.0 375.86 L1357.0 375.82 L1358.0 375.77 L1359.0 375.72 L1360.0 375.67 L1361.0 375.62 L1362.0 375.57 L1363.0 375.52 L1364.0 375.46 L1365.0 375.41 L1366.0 375.35 L1367.0 375.29 L1368.0 375.23 L1369.0 375.17 L1370.0 375.10 L1371.0 375.03 L1372.0 374.97 L1373.0 374.90 L1374.0 374.82 L1375.0 374.75 L1376.0 374.68 L1377.0 374.60 L1378.0 374.52 L1379.0 374.44 L1380.0 374.36 L1381.0 374.28 L1382.0 374.20 L1383.0 374.12 L1384.0 374.03 L1385.0 373.95 L1386.0 373.87 L1387.0 373.78 L1388.0 373.69 L1389.0 373.61 L1390.0 373.52 L1391.0 373.44 L1392.0 373.35 L1393.0 373.26 L1394.0 373.18 L1395.0 373.09 L1396.0 373.01 L1397.0 372.92 L1398.0 372.84 L1399.0 372.76 L1400.0 372.67 L1401.0 372.59 L1402.0 372.50 L1403.0 372.42 L1404.0 372.33 L1405.0 372.24 L1406.0 372.16 L1407.0 372.07 L1408.0 371.98 L1409.0 371.89 L1410.0 371.79 L1411.0 371.70 L1412.0 371.60 L1413.0 371.50 L1414.0 371.40 L1415.0 371.30 L1416.0 371.19 L1417.0 371.08 L1418.0 370.97 L1419.0 370.86 L1420.0 370.74 L1421.0 370.63 L1422.0 370.51 L1423.0 370.39 L1424.0 370.26 L1425.0 370.14 L1426.0 370.02 L1427.0 369.89 L1428.0 369.76 L1429.0 369.63 L1430.0 369.50 L1431.0 369.37 L1432.0 369.23 L1433.0 369.10 L1434.0 368.96 L1435.0 368.83 L1436.0 368.69 L1437.0 368.55 L1438.0 368.41 L1439.0 368.27 L1440.0 368.12 L1441.0 367.98 L1442.0 367.83 L1443.0 367.68 L1444.0 367.53 L1445.0 367.38 L1446.0 367.23 L1447.0 367.07 L1448.0 366.92 L1449.0 366.76 L1450.0 366.60 L1451.0 366.44 L1452.0 366.28 L1453.0 366.11 L1454.0 365.95 L1455.0 365.78 L1456.0 365.61 L1457.0 365.45 L1458.0 365.28 L1459.0 365.12 L1460.0 364.95 L1461.0 364.79 L1462.0 364.62 L1463.0 364.46 L1464.0 364.30 L1465.0 364.15 L1466.0 363.99 L1467.0 363.84 L1468.0 363.69 L1469.0 363.54 L1470.0 363.39 L1471.0 363.25 L1472.0 363.10 L1473.0 362.96 L1474.0 362.82 L1475.0 362.68 L1476.0 362.54 L1477.0 362.40 L1478.0 362.27 L1479.0 362.13 L1480.0 362.00 L1481.0 361.87 L1482.0 361.74 L1483.0 361.61 L1484.0 361.48 L1485.0 361.35 L1486.0 361.23 L1487.0 361.10 L1488.0 360.98 L1489.0 360.85 L1490.0 360.73 L1491.0 360.61 L1492.0 360.49 L1493.0 360.37 L1494.0 360.25 L1495.0 360.13 L1496.0 360.01 L1497.0 359.89 L1498.0 359.77 L1499.0 359.65 L1500.0 359.53 L1501.0 359.42 L1502.0 359.30 L1503.0 359.18 L1504.0 359.07 L1505.0 358.95 L1506.0 358.84 L1507.0 358.72 L1508.0 358.61 L1509.0 358.50 L1510.0 358.38 L1511.0 358.27 L1512.0 358.16 L1513.0 358.05 L1514.0 357.94 L1515.0 357.83 L1516.0 357.73 L1517.0 357.62 L1518.0 357.51 L1519.0 357.41 L1520.0 357.31 L1521.0 357.20 L1522.0 357.10 L1523.0 357.00 L1524.0 356.90 L1525.0 356.80 L1526.0 356.71 L1527.0 356.61 L1528.0 356.51 L1529.0 356.42 L1530.0 356.33 L1531.0 356.24 L1532.0 356.15 L1533.0 356.06 L1534.0 355.97 L1535.0 355.88 L1536.0 355.80 L1537.0 355.71 L1538.0 355.63 L1539.0 355.55 L1540.0 355.46 L1541.0 355.38 L1542.0 355.30 L1543.0 355.23 L1544.0 355.15 L1545.0 355.07 L1546.0 354.99 L1547.0 354.92 L1548.0 354.84 L1549.0 354.77 L1550.0 354.69 L1551.0 354.62 L1552.0 354.54 L1553.0 354.47 L1554.0 354.40 L1555.0 354.33 L1556.0 354.25 L1557.0 354.18 L1558.0 354.11 L1559.0 354.04 L1560.0 353.97 L1561.0 353.90 L1562.0 353.83 L1563.0 353.76 L1564.0 353.69 L1565.0 353.62 L1566.0 353.54 L1567.0 353.47 L1568.0 353.40 L1569.0 353.33 L1570.0 353.26 L1571.0 353.19 L1572.0 353.12 L1573.0 353.05 L1574.0 352.97 L1575.0 352.90 L1576.0 352.83 L1577.0 352.76 L1578.0 352.68 L1579.0 352.61 L1580.0 352.54 L1581.0 352.46 L1582.0 352.39 L1583.0 352.31 L1584.0 352.24 L1585.0 352.16 L1586.0 352.09 L1587.0 352.01 L1588.0 351.93 L1589.0 351.86 L1590.0 351.78 L1591.0 351.70 L1592.0 351.62 L1593.0 351.54 L1594.0 351.46 L1595.0 351.38 L1596.0 351.30 L1597.0 351.22 L1598.0 351.13 L1599.0 351.05 L1600.0 350.97 L1601.0 350.88 L1602.0 350.80 L1603.0 350.71 L1604.0 350.62 L1605.0 350.54 L1606.0 350.45 L1607.0 350.36 L1608.0 350.27 L1609.0 350.18 L1610.0 350.09 L1611.0 350.00 L1612.0 349.91 L1613.0 349.82 L1614.0 349.73 L1615.0 349.64 L1616.0 349.55 L1617.0 349.46 L1618.0 349.37 L1619.0 349.28 L1620.0 349.18 L1621.0 349.09 L1622.0 349.00 L1623.0 348.91 L1624.0 348.81 L1625.0 348.72 L1626.0 348.63 L1627.0 348.53 L1628.0 348.44 L1629.0 348.35 L1630.0 348.26 L1631.0 348.16 L1632.0 348.07 L1633.0 347.98 L1634.0 347.89 L1635.0 347.79 L1636.0 347.70 L1637.0 347.61 L1638.0 347.52 L1639.0 347.42 L1640.0 347.33 L1641.0 347.24 L1642.0 347.15 L1643.0 347.05 L1644.0 346.96 L1645.0 346.87 L1646.0 346.78 L1647.0 346.69 L1648.0 346.59 L1649.0 346.50 L1650.0 346.41 L1651.0 346.32 L1652.0 346.22 L1653.0 346.13 L1654.0 346.04 L1655.0 345.95 L1656.0 345.85 L1657.0 345.76 L1658.0 345.67 L1659.0 345.58 L1660.0 345.48 L1661.0 345.39 L1662.0 345.30 L1663.0 345.20 L1664.0 345.11 L1665.0 345.02 L1666.0 344.92 L1667.0 344.83 L1668.0 344.73 L1669.0 344.64 L1670.0 344.55 L1671.0 344.45 L1672.0 344.36 L1673.0 344.26 L1674.0 344.17 L1675.0 344.07 L1676.0 343.98 L1677.0 343.88 L1678.0 343.79 L1679.0 343.69 L1680.0 343.60 L1681.0 343.50 L1682.0 343.41 L1683.0 343.31 L1684.0 343.22 L1685.0 343.12 L1686.0 343.03 L1687.0 342.93 L1688.0 342.84 L1689.0 342.74 L1690.0 342.65 L1691.0 342.55 L1692.0 342.46 L1693.0 342.36 L1694.0 342.27 L1695.0 342.17 L1696.0 342.08 L1697.0 341.98 L1698.0 341.89 L1699.0 341.79 L1700.0 341.70 L1701.0 341.60" fill="none" stroke="#3a90b5" stroke-width="5.4" stroke-linejoin="round"/>
<path d="M55.0 271.00 L56.0 270.81 L57.0 270.64 L58.0 270.49 L59.0 270.37 L60.0 270.27 L61.0 270.19 L62.0 270.13 L63.0 270.09 L64.0 270.08 L65.0 270.09 L66.0 270.12 L67.0 270.17 L68.0 270.24 L69.0 270.34 L70.0 270.45 L71.0 270.59 L72.0 270.74 L73.0 270.92 L74.0 271.11 L75.0 271.33 L76.0 271.56 L77.0 271.82 L78.0 272.09 L79.0 272.39 L80.0 272.70 L81.0 273.03 L82.0 273.38 L83.0 273.75 L84.0 274.14 L85.0 274.54 L86.0 274.97 L87.0 275.41 L88.0 275.87 L89.0 276.35 L90.0 276.84 L91.0 277.35 L92.0 277.88 L93.0 278.43 L94.0 278.99 L95.0 279.57 L96.0 280.16 L97.0 280.77 L98.0 281.40 L99.0 282.04 L100.0 282.70 L101.0 283.37 L102.0 284.06 L103.0 284.76 L104.0 285.47 L105.0 286.20 L106.0 286.93 L107.0 287.66 L108.0 288.41 L109.0 289.15 L110.0 289.90 L111.0 290.66 L112.0 291.41 L113.0 292.16 L114.0 292.91 L115.0 293.65 L116.0 294.39 L117.0 295.12 L118.0 295.85 L119.0 296.56 L120.0 297.27 L121.0 297.96 L122.0 298.64 L123.0 299.30 L124.0 299.95 L125.0 300.58 L126.0 301.19 L127.0 301.78 L128.0 302.36 L129.0 302.92 L130.0 303.46 L131.0 303.98 L132.0 304.48 L133.0 304.96 L134.0 305.42 L135.0 305.86 L136.0 306.28 L137.0 306.67 L138.0 307.05 L139.0 307.40 L140.0 307.72 L141.0 308.03 L142.0 308.31 L143.0 308.57 L144.0 308.80 L145.0 309.01 L146.0 309.18 L147.0 309.32 L148.0 309.42 L149.0 309.48 L150.0 309.48 L151.0 309.42 L152.0 309.30 L153.0 309.12 L154.0 308.86 L155.0 308.52 L156.0 308.10 L157.0 307.59 L158.0 306.99 L159.0 306.29 L160.0 305.51 L161.0 304.66 L162.0 303.75 L163.0 302.79 L164.0 301.79 L165.0 300.76 L166.0 299.71 L167.0 298.65 L168.0 297.60 L169.0 296.55 L170.0 295.53 L171.0 294.54 L172.0 293.59 L173.0 292.70 L174.0 291.87 L175.0 291.10 L176.0 290.38 L177.0 289.73 L178.0 289.12 L179.0 288.57 L180.0 288.06 L181.0 287.60 L182.0 287.18 L183.0 286.80 L184.0 286.46 L185.0 286.14 L186.0 285.86 L187.0 285.61 L188.0 285.39 L189.0 285.18 L190.0 285.00 L191.0 284.83 L192.0 284.69 L193.0 284.55 L194.0 284.44 L195.0 284.34 L196.0 284.26 L197.0 284.19 L198.0 284.14 L199.0 284.10 L200.0 284.08 L201.0 284.07 L202.0 284.08 L203.0 284.10 L204.0 284.14 L205.0 284.18 L206.0 284.25 L207.0 284.32 L208.0 284.41 L209.0 284.51 L210.0 284.63 L211.0 284.75 L212.0 284.89 L213.0 285.03 L214.0 285.19 L215.0 285.36 L216.0 285.53 L217.0 285.71 L218.0 285.90 L219.0 286.10 L220.0 286.30 L221.0 286.51 L222.0 286.72 L223.0 286.94 L224.0 287.17 L225.0 287.40 L226.0 287.63 L227.0 287.86 L228.0 288.10 L229.0 288.34 L230.0 288.58 L231.0 288.82 L232.0 289.06 L233.0 289.30 L234.0 289.54 L235.0 289.78 L236.0 290.02 L237.0 290.26 L238.0 290.49 L239.0 290.73 L240.0 290.96 L241.0 291.20 L242.0 291.43 L243.0 291.66 L244.0 291.89 L245.0 292.12 L246.0 292.35 L247.0 292.57 L248.0 292.80 L249.0 293.02 L250.0 293.24 L251.0 293.46 L252.0 293.68 L253.0 293.90 L254.0 294.12 L255.0 294.33 L256.0 294.54 L257.0 294.75 L258.0 294.96 L259.0 295.17 L260.0 295.38 L261.0 295.58 L262.0 295.78 L263.0 295.98 L264.0 296.18 L265.0 296.37 L266.0 296.57 L267.0 296.76 L268.0 296.95 L269.0 297.13 L270.0 297.32 L271.0 297.50 L272.0 297.68 L273.0 297.86 L274.0 298.03 L275.0 298.21 L276.0 298.38 L277.0 298.55 L278.0 298.72 L279.0 298.89 L280.0 299.05 L281.0 299.21 L282.0 299.38 L283.0 299.53 L284.0 299.69 L285.0 299.85 L286.0 300.00 L287.0 300.16 L288.0 300.31 L289.0 300.46 L290.0 300.60 L291.0 300.75 L292.0 300.89 L293.0 301.04 L294.0 301.18 L295.0 301.32 L296.0 301.46 L297.0 301.60 L298.0 301.73 L299.0 301.87 L300.0 302.00 L301.0 302.13 L302.0 302.26 L303.0 302.39 L304.0 302.52 L305.0 302.64 L306.0 302.77 L307.0 302.89 L308.0 303.01 L309.0 303.12 L310.0 303.23 L311.0 303.34 L312.0 303.45 L313.0 303.55 L314.0 303.65 L315.0 303.74 L316.0 303.83 L317.0 303.91 L318.0 303.99 L319.0 304.07 L320.0 304.14 L321.0 304.21 L322.0 304.27 L323.0 304.32 L324.0 304.37 L325.0 304.41 L326.0 304.45 L327.0 304.48 L328.0 304.50 L329.0 304.52 L330.0 304.53 L331.0 304.53 L332.0 304.53 L333.0 304.51 L334.0 304.49 L335.0 304.47 L336.0 304.43 L337.0 304.39 L338.0 304.33 L339.0 304.27 L340.0 304.20 L341.0 304.12 L342.0 304.03 L343.0 303.94 L344.0 303.83 L345.0 303.72 L346.0 303.60 L347.0 303.48 L348.0 303.35 L349.0 303.22 L350.0 303.08 L351.0 302.94 L352.0 302.79 L353.0 302.64 L354.0 302.49 L355.0 302.34 L356.0 302.19 L357.0 302.03 L358.0 301.88 L359.0 301.73 L360.0 301.57 L361.0 301.42 L362.0 301.27 L363.0 301.13 L364.0 300.98 L365.0 300.84 L366.0 300.71 L367.0 300.58 L368.0 300.45 L369.0 300.33 L370.0 300.21 L371.0 300.10 L372.0 299.99 L373.0 299.89 L374.0 299.79 L375.0 299.71 L376.0 299.62 L377.0 299.54 L378.0 299.47 L379.0 299.41 L380.0 299.35 L381.0 299.30 L382.0 299.26 L383.0 299.23 L384.0 299.20 L385.0 299.18 L386.0 299.17 L387.0 299.17 L388.0 299.18 L389.0 299.20 L390.0 299.22 L391.0 299.26 L392.0 299.33 L393.0 299.43 L394.0 299.57 L395.0 299.77 L396.0 300.02 L397.0 300.34 L398.0 300.72 L399.0 301.16 L400.0 301.65 L401.0 302.17 L402.0 302.71 L403.0 303.26 L404.0 303.81 L405.0 304.35 L406.0 304.86 L407.0 305.33 L408.0 305.76 L409.0 306.16 L410.0 306.51 L411.0 306.84 L412.0 307.14 L413.0 307.41 L414.0 307.65 L415.0 307.88 L416.0 308.09 L417.0 308.28 L418.0 308.46 L419.0 308.63 L420.0 308.80 L421.0 308.97 L422.0 309.13 L423.0 309.30 L424.0 309.47 L425.0 309.63 L426.0 309.80 L427.0 309.97 L428.0 310.14 L429.0 310.32 L430.0 310.49 L431.0 310.67 L432.0 310.84 L433.0 311.02 L434.0 311.20 L435.0 311.38 L436.0 311.56 L437.0 311.74 L438.0 311.93 L439.0 312.11 L440.0 312.30 L441.0 312.49 L442.0 312.67 L443.0 312.86 L444.0 313.05 L445.0 313.24 L446.0 313.43 L447.0 313.61 L448.0 313.80 L449.0 313.98 L450.0 314.16 L451.0 314.34 L452.0 314.52 L453.0 314.69 L454.0 314.86 L455.0 315.03 L456.0 315.19 L457.0 315.35 L458.0 315.51 L459.0 315.66 L460.0 315.80 L461.0 315.94 L462.0 316.07 L463.0 316.20 L464.0 316.32 L465.0 316.43 L466.0 316.54 L467.0 316.64 L468.0 316.74 L469.0 316.83 L470.0 316.91 L471.0 316.99 L472.0 317.06 L473.0 317.12 L474.0 317.18 L475.0 317.23 L476.0 317.27 L477.0 317.31 L478.0 317.35 L479.0 317.37 L480.0 317.39 L481.0 317.41 L482.0 317.42 L483.0 317.42 L484.0 317.41 L485.0 317.39 L486.0 317.36 L487.0 317.32 L488.0 317.26 L489.0 317.19 L490.0 317.11 L491.0 317.00 L492.0 316.88 L493.0 316.74 L494.0 316.58 L495.0 316.40 L496.0 316.20 L497.0 315.96 L498.0 315.70 L499.0 315.39 L500.0 315.04 L501.0 314.64 L502.0 314.19 L503.0 313.67 L504.0 313.09 L505.0 312.43 L506.0 311.70 L507.0 310.87 L508.0 309.95 L509.0 308.92 L510.0 307.76 L511.0 306.48 L512.0 305.06 L513.0 303.48 L514.0 301.75 L515.0 299.87 L516.0 297.83 L517.0 295.63 L518.0 293.28 L519.0 290.78 L520.0 288.12 L521.0 285.32 L522.0 282.37 L523.0 279.28 L524.0 276.05 L525.0 272.72 L526.0 269.34 L527.0 265.98 L528.0 262.69 L529.0 259.52 L530.0 256.55 L531.0 253.81 L532.0 251.38 L533.0 249.30 L534.0 247.62 L535.0 246.33 L536.0 245.38 L537.0 244.73 L538.0 244.36 L539.0 244.23 L540.0 244.30 L541.0 244.54 L542.0 244.95 L543.0 245.52 L544.0 246.27 L545.0 247.19 L546.0 248.28 L547.0 249.55 L548.0 251.00 L549.0 252.62 L550.0 254.40 L551.0 256.31 L552.0 258.34 L553.0 260.46 L554.0 262.65 L555.0 264.88 L556.0 267.14 L557.0 269.41 L558.0 271.65 L559.0 273.86 L560.0 276.00 L561.0 278.06 L562.0 280.04 L563.0 281.93 L564.0 283.73 L565.0 285.45 L566.0 287.08 L567.0 288.62 L568.0 290.07 L569.0 291.43 L570.0 292.70 L571.0 293.87 L572.0 294.93 L573.0 295.84 L574.0 296.58 L575.0 297.12 L576.0 297.43 L577.0 297.50 L578.0 297.30 L579.0 296.83 L580.0 296.12 L581.0 295.17 L582.0 294.00 L583.0 292.62 L584.0 291.05 L585.0 289.30 L586.0 287.39 L587.0 285.32 L588.0 283.10 L589.0 280.75 L590.0 278.28 L591.0 275.70 L592.0 273.01 L593.0 270.23 L594.0 267.36 L595.0 264.43 L596.0 261.43 L597.0 258.38 L598.0 255.29 L599.0 252.18 L600.0 249.06 L601.0 245.95 L602.0 242.86 L603.0 239.82 L604.0 236.83 L605.0 233.92 L606.0 231.09 L607.0 228.37 L608.0 225.77 L609.0 223.31 L610.0 221.00 L611.0 218.86 L612.0 216.89 L613.0 215.08 L614.0 213.44 L615.0 211.96 L616.0 210.65 L617.0 209.50 L618.0 208.51 L619.0 207.70 L620.0 207.09 L621.0 206.68 L622.0 206.50 L623.0 206.56 L624.0 206.85 L625.0 207.36 L626.0 208.08 L627.0 209.00 L628.0 210.11 L629.0 211.38 L630.0 212.78 L631.0 214.29 L632.0 215.86 L633.0 217.47 L634.0 219.09 L635.0 220.70 L636.0 222.25 L637.0 223.72 L638.0 225.11 L639.0 226.41 L640.0 227.64 L641.0 228.78 L642.0 229.85 L643.0 230.86 L644.0 231.79 L645.0 232.66 L646.0 233.47 L647.0 234.22 L648.0 234.92 L649.0 235.56 L650.0 236.16 L651.0 236.71 L652.0 237.23 L653.0 237.70 L654.0 238.14 L655.0 238.55 L656.0 238.92 L657.0 239.27 L658.0 239.58 L659.0 239.87 L660.0 240.14 L661.0 240.38 L662.0 240.60 L663.0 240.79 L664.0 240.97 L665.0 241.14 L666.0 241.28 L667.0 241.41 L668.0 241.53 L669.0 241.64 L670.0 241.74 L671.0 241.83 L672.0 241.92 L673.0 242.00 L674.0 242.08 L675.0 242.15 L676.0 242.22 L677.0 242.29 L678.0 242.36 L679.0 242.42 L680.0 242.47 L681.0 242.53 L682.0 242.58 L683.0 242.63 L684.0 242.67 L685.0 242.71 L686.0 242.75 L687.0 242.79 L688.0 242.82 L689.0 242.84 L690.0 242.87 L691.0 242.89 L692.0 242.90 L693.0 242.91 L694.0 242.92 L695.0 242.93 L696.0 242.93 L697.0 242.92 L698.0 242.92 L699.0 242.91 L700.0 242.89 L701.0 242.87 L702.0 242.85 L703.0 242.82 L704.0 242.79 L705.0 242.75 L706.0 242.71 L707.0 242.67 L708.0 242.62 L709.0 242.58 L710.0 242.53 L711.0 242.49 L712.0 242.46 L713.0 242.44 L714.0 242.43 L715.0 242.43 L716.0 242.45 L717.0 242.50 L718.0 242.56 L719.0 242.65 L720.0 242.76 L721.0 242.91 L722.0 243.09 L723.0 243.30 L724.0 243.55 L725.0 243.83 L726.0 244.14 L727.0 244.48 L728.0 244.83 L729.0 245.21 L730.0 245.60 L731.0 246.00 L732.0 246.40 L733.0 246.81 L734.0 247.21 L735.0 247.61 L736.0 248.00 L737.0 248.38 L738.0 248.74 L739.0 249.08 L740.0 249.39 L741.0 249.68 L742.0 249.94 L743.0 250.17 L744.0 250.37 L745.0 250.55 L746.0 250.70 L747.0 250.82 L748.0 250.91 L749.0 250.98 L750.0 251.03 L751.0 251.04 L752.0 251.04 L753.0 251.00 L754.0 250.94 L755.0 250.84 L756.0 250.70 L757.0 250.50 L758.0 250.24 L759.0 249.90 L760.0 249.48 L761.0 248.97 L762.0 248.35 L763.0 247.62 L764.0 246.77 L765.0 245.79 L766.0 244.67 L767.0 243.39 L768.0 241.97 L769.0 240.40 L770.0 238.69 L771.0 236.85 L772.0 234.88 L773.0 232.78 L774.0 230.57 L775.0 228.25 L776.0 225.82 L777.0 223.29 L778.0 220.67 L779.0 217.95 L780.0 215.15 L781.0 212.28 L782.0 209.34 L783.0 206.35 L784.0 203.32 L785.0 200.27 L786.0 197.21 L787.0 194.15 L788.0 191.10 L789.0 188.09 L790.0 185.11 L791.0 182.18 L792.0 179.25 L793.0 176.30 L794.0 173.30 L795.0 170.21 L796.0 166.99 L797.0 163.63 L798.0 160.12 L799.0 156.48 L800.0 152.74 L801.0 148.92 L802.0 145.04 L803.0 141.12 L804.0 137.18 L805.0 133.25 L806.0 129.34 L807.0 125.48 L808.0 121.69 L809.0 118.00 L810.0 114.42 L811.0 110.94 L812.0 107.59 L813.0 104.34 L814.0 101.21 L815.0 98.19 L816.0 95.29 L817.0 92.49 L818.0 89.81 L819.0 87.24 L820.0 84.79 L821.0 82.45 L822.0 80.25 L823.0 78.22 L824.0 76.37 L825.0 74.71 L826.0 73.28 L827.0 72.08 L828.0 71.13 L829.0 70.41 L830.0 69.90 L831.0 69.58 L832.0 69.42 L833.0 69.41 L834.0 69.54 L835.0 69.82 L836.0 70.25 L837.0 70.86 L838.0 71.64 L839.0 72.61 L840.0 73.77 L841.0 75.13 L842.0 76.66 L843.0 78.38 L844.0 80.28 L845.0 82.34 L846.0 84.58 L847.0 86.98 L848.0 89.54 L849.0 92.24 L850.0 95.06 L851.0 98.01 L852.0 101.05 L853.0 104.19 L854.0 107.40 L855.0 110.66 L856.0 113.98 L857.0 117.33 L858.0 120.70 L859.0 124.10 L860.0 127.56 L861.0 131.09 L862.0 134.71 L863.0 138.46 L864.0 142.33 L865.0 146.37 L866.0 150.58 L867.0 154.99 L868.0 159.62 L869.0 164.49 L870.0 169.61 L871.0 174.93 L872.0 180.36 L873.0 185.81 L874.0 191.17 L875.0 196.36 L876.0 201.29 L877.0 205.86 L878.0 210.07 L879.0 213.96 L880.0 217.55 L881.0 220.90 L882.0 224.04 L883.0 227.00 L884.0 229.82 L885.0 232.55 L886.0 235.21 L887.0 237.84 L888.0 240.45 L889.0 243.02 L890.0 245.54 L891.0 247.99 L892.0 250.36 L893.0 252.64 L894.0 254.81 L895.0 256.85 L896.0 258.76 L897.0 260.51 L898.0 262.12 L899.0 263.59 L900.0 264.93 L901.0 266.15 L902.0 267.26 L903.0 268.27 L904.0 269.18 L905.0 270.02 L906.0 270.78 L907.0 271.48 L908.0 272.13 L909.0 272.71 L910.0 273.23 L911.0 273.69 L912.0 274.10 L913.0 274.45 L914.0 274.73 L915.0 274.96 L916.0 275.13 L917.0 275.25 L918.0 275.30 L919.0 275.30 L920.0 275.24 L921.0 275.13 L922.0 274.97 L923.0 274.77 L924.0 274.52 L925.0 274.24 L926.0 273.92 L927.0 273.57 L928.0 273.19 L929.0 272.79 L930.0 272.36 L931.0 271.91 L932.0 271.45 L933.0 270.97 L934.0 270.49 L935.0 270.00 L936.0 269.50 L937.0 269.01 L938.0 268.52 L939.0 268.03 L940.0 267.56 L941.0 267.10 L942.0 266.65 L943.0 266.21 L944.0 265.78 L945.0 265.37 L946.0 264.97 L947.0 264.59 L948.0 264.22 L949.0 263.86 L950.0 263.52 L951.0 263.19 L952.0 262.88 L953.0 262.58 L954.0 262.29 L955.0 262.03 L956.0 261.77 L957.0 261.54 L958.0 261.31 L959.0 261.11 L960.0 260.93 L961.0 260.77 L962.0 260.63 L963.0 260.51 L964.0 260.41 L965.0 260.35 L966.0 260.31 L967.0 260.29 L968.0 260.32 L969.0 260.38 L970.0 260.48 L971.0 260.64 L972.0 260.86 L973.0 261.15 L974.0 261.50 L975.0 261.94 L976.0 262.45 L977.0 263.06 L978.0 263.77 L979.0 264.58 L980.0 265.50 L981.0 266.53 L982.0 267.68 L983.0 268.93 L984.0 270.28 L985.0 271.70 L986.0 273.19 L987.0 274.73 L988.0 276.32 L989.0 277.94 L990.0 279.58 L991.0 281.23 L992.0 282.88 L993.0 284.52 L994.0 286.13 L995.0 287.70 L996.0 289.23 L997.0 290.70 L998.0 292.13 L999.0 293.51 L1000.0 294.85 L1001.0 296.13 L1002.0 297.37 L1003.0 298.57 L1004.0 299.71 L1005.0 300.81 L1006.0 301.87 L1007.0 302.87 L1008.0 303.84 L1009.0 304.75 L1010.0 305.62 L1011.0 306.43 L1012.0 307.19 L1013.0 307.87 L1014.0 308.48 L1015.0 309.01 L1016.0 309.45 L1017.0 309.79 L1018.0 310.04 L1019.0 310.17 L1020.0 310.20 L1021.0 310.10 L1022.0 309.87 L1023.0 309.52 L1024.0 309.02 L1025.0 308.37 L1026.0 307.57 L1027.0 306.61 L1028.0 305.48 L1029.0 304.18 L1030.0 302.70 L1031.0 301.03 L1032.0 299.19 L1033.0 297.18 L1034.0 295.02 L1035.0 292.71 L1036.0 290.26 L1037.0 287.69 L1038.0 285.00 L1039.0 282.21 L1040.0 279.33 L1041.0 276.36 L1042.0 273.32 L1043.0 270.21 L1044.0 267.05 L1045.0 263.85 L1046.0 260.62 L1047.0 257.38 L1048.0 254.13 L1049.0 250.88 L1050.0 247.65 L1051.0 244.46 L1052.0 241.30 L1053.0 238.19 L1054.0 235.15 L1055.0 232.18 L1056.0 229.30 L1057.0 226.52 L1058.0 223.84 L1059.0 221.27 L1060.0 218.82 L1061.0 216.49 L1062.0 214.29 L1063.0 212.23 L1064.0 210.31 L1065.0 208.53 L1066.0 206.91 L1067.0 205.44 L1068.0 204.12 L1069.0 202.95 L1070.0 201.92 L1071.0 201.03 L1072.0 200.27 L1073.0 199.63 L1074.0 199.12 L1075.0 198.74 L1076.0 198.46 L1077.0 198.30 L1078.0 198.24 L1079.0 198.29 L1080.0 198.44 L1081.0 198.68 L1082.0 199.02 L1083.0 199.44 L1084.0 199.95 L1085.0 200.54 L1086.0 201.21 L1087.0 201.95 L1088.0 202.76 L1089.0 203.65 L1090.0 204.59 L1091.0 205.59 L1092.0 206.65 L1093.0 207.77 L1094.0 208.93 L1095.0 210.14 L1096.0 211.40 L1097.0 212.69 L1098.0 214.02 L1099.0 215.38 L1100.0 216.77 L1101.0 218.19 L1102.0 219.63 L1103.0 221.09 L1104.0 222.56 L1105.0 224.05 L1106.0 225.55 L1107.0 227.05 L1108.0 228.56 L1109.0 230.07 L1110.0 231.58 L1111.0 233.09 L1112.0 234.61 L1113.0 236.12 L1114.0 237.63 L1115.0 239.14 L1116.0 240.64 L1117.0 242.14 L1118.0 243.64 L1119.0 245.13 L1120.0 246.61 L1121.0 248.08 L1122.0 249.55 L1123.0 251.00 L1124.0 252.44 L1125.0 253.87 L1126.0 255.28 L1127.0 256.66 L1128.0 258.02 L1129.0 259.35 L1130.0 260.65 L1131.0 261.90 L1132.0 263.12 L1133.0 264.28 L1134.0 265.40 L1135.0 266.47 L1136.0 267.47 L1137.0 268.42 L1138.0 269.30 L1139.0 270.11 L1140.0 270.85 L1141.0 271.52 L1142.0 272.12 L1143.0 272.65 L1144.0 273.11 L1145.0 273.49 L1146.0 273.80 L1147.0 274.04 L1148.0 274.20 L1149.0 274.28 L1150.0 274.30 L1151.0 274.23 L1152.0 274.10 L1153.0 273.90 L1154.0 273.63 L1155.0 273.32 L1156.0 272.95 L1157.0 272.53 L1158.0 272.07 L1159.0 271.57 L1160.0 271.04 L1161.0 270.49 L1162.0 269.90 L1163.0 269.30 L1164.0 268.68 L1165.0 268.05 L1166.0 267.41 L1167.0 266.76 L1168.0 266.09 L1169.0 265.42 L1170.0 264.75 L1171.0 264.06 L1172.0 263.38 L1173.0 262.69 L1174.0 262.00 L1175.0 261.31 L1176.0 260.63 L1177.0 259.95 L1178.0 259.27 L1179.0 258.60 L1180.0 257.93 L1181.0 257.28 L1182.0 256.63 L1183.0 256.00 L1184.0 255.38 L1185.0 254.77 L1186.0 254.19 L1187.0 253.62 L1188.0 253.06 L1189.0 252.53 L1190.0 252.03 L1191.0 251.55 L1192.0 251.09 L1193.0 250.66 L1194.0 250.27 L1195.0 249.90 L1196.0 249.57 L1197.0 249.27 L1198.0 249.01 L1199.0 248.78 L1200.0 248.60 L1201.0 248.46 L1202.0 248.36 L1203.0 248.30 L1204.0 248.29 L1205.0 248.33 L1206.0 248.41 L1207.0 248.54 L1208.0 248.72 L1209.0 248.94 L1210.0 249.22 L1211.0 249.53 L1212.0 249.90 L1213.0 250.31 L1214.0 250.77 L1215.0 251.28 L1216.0 251.83 L1217.0 252.43 L1218.0 253.09 L1219.0 253.78 L1220.0 254.53 L1221.0 255.32 L1222.0 256.15 L1223.0 257.01 L1224.0 257.89 L1225.0 258.79 L1226.0 259.69 L1227.0 260.60 L1228.0 261.50 L1229.0 262.38 L1230.0 263.24 L1231.0 264.07 L1232.0 264.86 L1233.0 265.61 L1234.0 266.30 L1235.0 266.93 L1236.0 267.50 L1237.0 268.01 L1238.0 268.46 L1239.0 268.84 L1240.0 269.15 L1241.0 269.39 L1242.0 269.57 L1243.0 269.68 L1244.0 269.71 L1245.0 269.68 L1246.0 269.57 L1247.0 269.39 L1248.0 269.13 L1249.0 268.81 L1250.0 268.41 L1251.0 267.93 L1252.0 267.38 L1253.0 266.76 L1254.0 266.06 L1255.0 265.28 L1256.0 264.43 L1257.0 263.50 L1258.0 262.50 L1259.0 261.42 L1260.0 260.26 L1261.0 259.02 L1262.0 257.70 L1263.0 256.29 L1264.0 254.79 L1265.0 253.21 L1266.0 251.53 L1267.0 249.75 L1268.0 247.88 L1269.0 245.91 L1270.0 243.84 L1271.0 241.67 L1272.0 239.39 L1273.0 237.00 L1274.0 234.50 L1275.0 231.91 L1276.0 229.24 L1277.0 226.49 L1278.0 223.69 L1279.0 220.84 L1280.0 217.97 L1281.0 215.07 L1282.0 212.18 L1283.0 209.29 L1284.0 206.43 L1285.0 203.60 L1286.0 200.82 L1287.0 198.11 L1288.0 195.46 L1289.0 192.87 L1290.0 190.34 L1291.0 187.86 L1292.0 185.43 L1293.0 183.05 L1294.0 180.71 L1295.0 178.40 L1296.0 176.14 L1297.0 173.90 L1298.0 171.70 L1299.0 169.51 L1300.0 167.35 L1301.0 165.20 L1302.0 163.06 L1303.0 160.93 L1304.0 158.80 L1305.0 156.65 L1306.0 154.47 L1307.0 152.27 L1308.0 150.03 L1309.0 147.74 L1310.0 145.40 L1311.0 143.05 L1312.0 140.71 L1313.0 138.42 L1314.0 136.20 L1315.0 134.10 L1316.0 132.13 L1317.0 130.30 L1318.0 128.61 L1319.0 127.04 L1320.0 125.61 L1321.0 124.30 L1322.0 123.11 L1323.0 122.04 L1324.0 121.08 L1325.0 120.23 L1326.0 119.49 L1327.0 118.86 L1328.0 118.35 L1329.0 117.96 L1330.0 117.68 L1331.0 117.53 L1332.0 117.50 L1333.0 117.60 L1334.0 117.83 L1335.0 118.17 L1336.0 118.63 L1337.0 119.21 L1338.0 119.91 L1339.0 120.72 L1340.0 121.65 L1341.0 122.70 L1342.0 123.88 L1343.0 125.21 L1344.0 126.69 L1345.0 128.35 L1346.0 130.17 L1347.0 132.10 L1348.0 134.10 L1349.0 136.14 L1350.0 138.22 L1351.0 140.33 L1352.0 142.47 L1353.0 144.65 L1354.0 146.86 L1355.0 149.10 L1356.0 151.38 L1357.0 153.70 L1358.0 156.06 L1359.0 158.47 L1360.0 160.93 L1361.0 163.43 L1362.0 166.00 L1363.0 168.62 L1364.0 171.30 L1365.0 174.04 L1366.0 176.82 L1367.0 179.65 L1368.0 182.53 L1369.0 185.45 L1370.0 188.41 L1371.0 191.40 L1372.0 194.43 L1373.0 197.49 L1374.0 200.57 L1375.0 203.68 L1376.0 206.81 L1377.0 209.95 L1378.0 213.12 L1379.0 216.29 L1380.0 219.47 L1381.0 222.65 L1382.0 225.84 L1383.0 229.03 L1384.0 232.21 L1385.0 235.38 L1386.0 238.55 L1387.0 241.72 L1388.0 244.88 L1389.0 248.03 L1390.0 251.17 L1391.0 254.31 L1392.0 257.44 L1393.0 260.56 L1394.0 263.68 L1395.0 266.78 L1396.0 269.88 L1397.0 272.97 L1398.0 276.05 L1399.0 279.10 L1400.0 282.13 L1401.0 285.12 L1402.0 288.07 L1403.0 290.98 L1404.0 293.82 L1405.0 296.61 L1406.0 299.32 L1407.0 301.96 L1408.0 304.51 L1409.0 306.97 L1410.0 309.34 L1411.0 311.62 L1412.0 313.81 L1413.0 315.90 L1414.0 317.91 L1415.0 319.84 L1416.0 321.68 L1417.0 323.45 L1418.0 325.13 L1419.0 326.74 L1420.0 328.25 L1421.0 329.68 L1422.0 331.00 L1423.0 332.22 L1424.0 333.33 L1425.0 334.33 L1426.0 335.20 L1427.0 335.95 L1428.0 336.57 L1429.0 337.09 L1430.0 337.50 L1431.0 337.82 L1432.0 338.05 L1433.0 338.20 L1434.0 338.29 L1435.0 338.31 L1436.0 338.28 L1437.0 338.20 L1438.0 338.06 L1439.0 337.88 L1440.0 337.64 L1441.0 337.34 L1442.0 336.99 L1443.0 336.58 L1444.0 336.11 L1445.0 335.57 L1446.0 334.98 L1447.0 334.32 L1448.0 333.60 L1449.0 332.83 L1450.0 332.01 L1451.0 331.13 L1452.0 330.22 L1453.0 329.26 L1454.0 328.26 L1455.0 327.23 L1456.0 326.17 L1457.0 325.08 L1458.0 323.96 L1459.0 322.82 L1460.0 321.67 L1461.0 320.49 L1462.0 319.30 L1463.0 318.10 L1464.0 316.88 L1465.0 315.66 L1466.0 314.43 L1467.0 313.20 L1468.0 311.96 L1469.0 310.73 L1470.0 309.50 L1471.0 308.27 L1472.0 307.05 L1473.0 305.84 L1474.0 304.63 L1475.0 303.43 L1476.0 302.23 L1477.0 301.03 L1478.0 299.85 L1479.0 298.66 L1480.0 297.49 L1481.0 296.32 L1482.0 295.15 L1483.0 293.99 L1484.0 292.84 L1485.0 291.70 L1486.0 290.59 L1487.0 289.50 L1488.0 288.45 L1489.0 287.44 L1490.0 286.47 L1491.0 285.56 L1492.0 284.71 L1493.0 283.92 L1494.0 283.20 L1495.0 282.55 L1496.0 281.99 L1497.0 281.51 L1498.0 281.12 L1499.0 280.82 L1500.0 280.62 L1501.0 280.51 L1502.0 280.50 L1503.0 280.59 L1504.0 280.79 L1505.0 281.08 L1506.0 281.47 L1507.0 281.94 L1508.0 282.51 L1509.0 283.16 L1510.0 283.89 L1511.0 284.70 L1512.0 285.58 L1513.0 286.54 L1514.0 287.56 L1515.0 288.64 L1516.0 289.76 L1517.0 290.93 L1518.0 292.13 L1519.0 293.35 L1520.0 294.60 L1521.0 295.85 L1522.0 297.10 L1523.0 298.35 L1524.0 299.58 L1525.0 300.79 L1526.0 301.98 L1527.0 303.15 L1528.0 304.29 L1529.0 305.42 L1530.0 306.53 L1531.0 307.62 L1532.0 308.69 L1533.0 309.74 L1534.0 310.78 L1535.0 311.80 L1536.0 312.80 L1537.0 313.79 L1538.0 314.76 L1539.0 315.71 L1540.0 316.64 L1541.0 317.54 L1542.0 318.41 L1543.0 319.24 L1544.0 320.03 L1545.0 320.77 L1546.0 321.47 L1547.0 322.12 L1548.0 322.72 L1549.0 323.25 L1550.0 323.73 L1551.0 324.15 L1552.0 324.51 L1553.0 324.81 L1554.0 325.06 L1555.0 325.25 L1556.0 325.39 L1557.0 325.48 L1558.0 325.52 L1559.0 325.51 L1560.0 325.46 L1561.0 325.35 L1562.0 325.20 L1563.0 325.00 L1564.0 324.75 L1565.0 324.45 L1566.0 324.11 L1567.0 323.72 L1568.0 323.29 L1569.0 322.81 L1570.0 322.28 L1571.0 321.72 L1572.0 321.11 L1573.0 320.47 L1574.0 319.79 L1575.0 319.08 L1576.0 318.34 L1577.0 317.57 L1578.0 316.77 L1579.0 315.95 L1580.0 315.10 L1581.0 314.24 L1582.0 313.35 L1583.0 312.45 L1584.0 311.53 L1585.0 310.58 L1586.0 309.62 L1587.0 308.63 L1588.0 307.62 L1589.0 306.58 L1590.0 305.52 L1591.0 304.44 L1592.0 303.33 L1593.0 302.20 L1594.0 301.04 L1595.0 299.85 L1596.0 298.64 L1597.0 297.40 L1598.0 296.14 L1599.0 294.85 L1600.0 293.53 L1601.0 292.19 L1602.0 290.82 L1603.0 289.43 L1604.0 288.01 L1605.0 286.57 L1606.0 285.11 L1607.0 283.62 L1608.0 282.10 L1609.0 280.56 L1610.0 279.00 L1611.0 277.41 L1612.0 275.81 L1613.0 274.20 L1614.0 272.59 L1615.0 270.98 L1616.0 269.39 L1617.0 267.81 L1618.0 266.26 L1619.0 264.75 L1620.0 263.27 L1621.0 261.84 L1622.0 260.45 L1623.0 259.10 L1624.0 257.78 L1625.0 256.50 L1626.0 255.25 L1627.0 254.04 L1628.0 252.85 L1629.0 251.70 L1630.0 250.57 L1631.0 249.46 L1632.0 248.38 L1633.0 247.31 L1634.0 246.27 L1635.0 245.25 L1636.0 244.24 L1637.0 243.24 L1638.0 242.26 L1639.0 241.29 L1640.0 240.33 L1641.0 239.37 L1642.0 238.43 L1643.0 237.51 L1644.0 236.60 L1645.0 235.70 L1646.0 234.83 L1647.0 233.98 L1648.0 233.16 L1649.0 232.36 L1650.0 231.59 L1651.0 230.85 L1652.0 230.15 L1653.0 229.48 L1654.0 228.85 L1655.0 228.25 L1656.0 227.70 L1657.0 227.19 L1658.0 226.73 L1659.0 226.30 L1660.0 225.92 L1661.0 225.58 L1662.0 225.28 L1663.0 225.03 L1664.0 224.81 L1665.0 224.63 L1666.0 224.49 L1667.0 224.39 L1668.0 224.33 L1669.0 224.30 L1670.0 224.31 L1671.0 224.36 L1672.0 224.45 L1673.0 224.57 L1674.0 224.73 L1675.0 224.92 L1676.0 225.16 L1677.0 225.43 L1678.0 225.74 L1679.0 226.09 L1680.0 226.47 L1681.0 226.89 L1682.0 227.35 L1683.0 227.85 L1684.0 228.39 L1685.0 228.96 L1686.0 229.57 L1687.0 230.20 L1688.0 230.87 L1689.0 231.56 L1690.0 232.28 L1691.0 233.02 L1692.0 233.78 L1693.0 234.56 L1694.0 235.35 L1695.0 236.16 L1696.0 236.98 L1697.0 237.81 L1698.0 238.65 L1699.0 239.50" fill="none" stroke="#f4a885" stroke-width="4.9" stroke-linejoin="round"/>
</g>
<g id="arrows"><rect x="78.85" y="223.80" width="5.7" height="31.00" fill="#4a4340"/><path d="M81.7 209.3 L89.8 224.8 L73.60000000000001 224.8Z" fill="#4a4340"/><path d="M81.7 269.3 L89.8 253.8 L73.60000000000001 253.8Z" fill="#4a4340"/><rect x="537.55" y="261.50" width="5.7" height="82.30" fill="#42463c"/><path d="M540.4 247 L548.5 262.5 L532.3 262.5Z" fill="#42463c"/><path d="M540.4 358.3 L548.5 342.8 L532.3 342.8Z" fill="#42463c"/><rect x="619.95" y="223.80" width="5.7" height="140.70" fill="#42463c"/><path d="M622.8 209.3 L630.9 224.8 L614.6999999999999 224.8Z" fill="#42463c"/><path d="M622.8 379 L630.9 363.5 L614.6999999999999 363.5Z" fill="#42463c"/><rect x="829.75" y="88.00" width="5.7" height="110.20" fill="#42463c"/><path d="M832.6 73.5 L840.7 89.0 L824.5 89.0Z" fill="#42463c"/><path d="M832.6 212.7 L840.7 197.2 L824.5 197.2Z" fill="#42463c"/><rect x="1031.15" y="174.10" width="5.7" height="84.60" fill="#4a4340"/><path d="M1034 159.6 L1042.1 175.1 L1025.9 175.1Z" fill="#4a4340"/><path d="M1034 273.2 L1042.1 257.7 L1025.9 257.7Z" fill="#4a4340"/><rect x="1328.75" y="134.70" width="5.7" height="221.80" fill="#42463c"/><path d="M1331.6 120.2 L1339.6999999999998 135.7 L1323.5 135.7Z" fill="#42463c"/><path d="M1331.6 371 L1339.6999999999998 355.5 L1323.5 355.5Z" fill="#42463c"/><rect x="1664.65" y="243.20" width="5.7" height="81.30" fill="#42463c"/><path d="M1667.5 228.7 L1675.6 244.2 L1659.4 244.2Z" fill="#42463c"/><path d="M1667.5 339 L1675.6 323.5 L1659.4 323.5Z" fill="#42463c"/></g>
<g id="axes">
<rect x="52.8" y="78" width="3.1" height="374.6" fill="#000"/>
<path d="M54.3 67.5 L61.3 81 L47.3 81Z" fill="#000"/>
<rect x="52.8" y="449.5" width="1654" height="3.2" fill="#000"/>
<path d="M1718.7 451.5 L1705.3 458 L1705.3 445Z" fill="#000"/>
<rect x="444.1" y="443" width="3.2" height="18.5" fill="#000"/>
<rect x="770.7" y="443" width="3.2" height="18.5" fill="#000"/>
<rect x="1106.7" y="445.3" width="3.2" height="19" fill="#000"/>
<rect x="1411.7" y="444.3" width="3.2" height="18.7" fill="#000"/>
</g>
<g id="legend">
<rect x="1517.3" y="21" width="42.3" height="4.9" fill="#1f78a8"/>
<rect x="1517.3" y="60.8" width="42.3" height="4.3" fill="#f4a885"/>
<rect x="1526" y="98.1" width="25" height="2.5" fill="#000"/>
<path d="M1517.6 99.35 L1528 94.6 L1528 104.1Z" fill="#000"/>
<path d="M1558.8 99.35 L1548.4 94.6 L1548.4 104.1Z" fill="#000"/>
</g>
<g id="labels"><text x="-0.5" y="19.4" font-size="24" text-anchor="start" textLength="109" lengthAdjust="spacingAndGlyphs">Evaluation</text><text x="8.2" y="46.4" font-size="24" text-anchor="start" textLength="90.6" lengthAdjust="spacingAndGlyphs">indicator</text><text x="1576.6" y="26.6" font-size="23.5" text-anchor="start" textLength="126.6" lengthAdjust="spacingAndGlyphs">AVAV profile</text><text x="1574.6" y="66.3" font-size="23.5" text-anchor="start" textLength="137" lengthAdjust="spacingAndGlyphs">MVMV profile</text><text x="1574.3" y="103.6" font-size="23.5" text-anchor="start" textLength="293.4" lengthAdjust="spacingAndGlyphs">Comparison of driving safety</text><text x="119.4" y="263.4" font-size="23.5" text-anchor="start" textLength="30.6" lengthAdjust="spacingAndGlyphs">SIS</text><text class="brk" x="144.6" y="264.2" font-size="23" font-weight="bold">〈</text><text x="171.2" y="263.4" font-size="23.5" text-anchor="start" textLength="13" lengthAdjust="spacingAndGlyphs">0</text><text x="666.4" y="319.9" font-size="23.5" text-anchor="start" textLength="31.4" lengthAdjust="spacingAndGlyphs">SIS</text><text class="brk" x="701.9" y="320.7" font-size="23" font-weight="bold">〉</text><text x="717.6" y="319.9" font-size="23.5" text-anchor="start" textLength="13.4" lengthAdjust="spacingAndGlyphs">0</text><text x="154.6" y="435.7" font-size="25" text-anchor="start" textLength="106.5" lengthAdjust="spacingAndGlyphs">Segment 1</text><text x="408.6" y="435.7" font-size="25" text-anchor="start" textLength="114.2" lengthAdjust="spacingAndGlyphs">Segment 2</text><text x="590.2" y="435.7" font-size="25" text-anchor="start" textLength="114.4" lengthAdjust="spacingAndGlyphs">Segment 3</text><text x="736.8" y="435.7" font-size="25" text-anchor="start" textLength="114.4" lengthAdjust="spacingAndGlyphs">Segment 4</text><text x="943.2" y="435.7" font-size="25" text-anchor="start" textLength="115.2" lengthAdjust="spacingAndGlyphs">Segment 5</text><text x="1203.6" y="435.7" font-size="25" text-anchor="start" textLength="115.6" lengthAdjust="spacingAndGlyphs">Segment 6</text><text x="1489.4" y="435.7" font-size="25" text-anchor="start" textLength="115.6" lengthAdjust="spacingAndGlyphs">Segment n</text><text x="50.6" y="491.8" font-size="23" text-anchor="start" textLength="13.4" lengthAdjust="spacingAndGlyphs">0</text><text x="418.8" y="491.8" font-size="23" text-anchor="start" textLength="55.5" lengthAdjust="spacingAndGlyphs">1,000</text><text x="742.3" y="491.8" font-size="23" text-anchor="start" textLength="58.3" lengthAdjust="spacingAndGlyphs">2,000</text><text x="1079" y="491.8" font-size="23" text-anchor="start" textLength="57.3" lengthAdjust="spacingAndGlyphs">3,000</text><text x="1665.5" y="485.2" font-size="24.5" text-anchor="start" textLength="117" lengthAdjust="spacingAndGlyphs">position(m)</text><text x="240.2" y="490.5" font-size="31" text-anchor="start" textLength="19.6" lengthAdjust="spacingAndGlyphs">…</text><text x="597.6" y="490.5" font-size="31" text-anchor="start" textLength="19.6" lengthAdjust="spacingAndGlyphs">…</text><text x="928.2" y="490.5" font-size="31" text-anchor="start" textLength="19.6" lengthAdjust="spacingAndGlyphs">…</text><text x="1251.4" y="490.5" font-size="31" text-anchor="start" textLength="19.6" lengthAdjust="spacingAndGlyphs">…</text><text class="math" x="1400" y="488.6" font-size="22.5" font-weight="bold">m<tspan font-size="17" font-style="italic" font-weight="normal" dy="3.5">p</tspan></text></g>
</svg>
</body>
</html>
